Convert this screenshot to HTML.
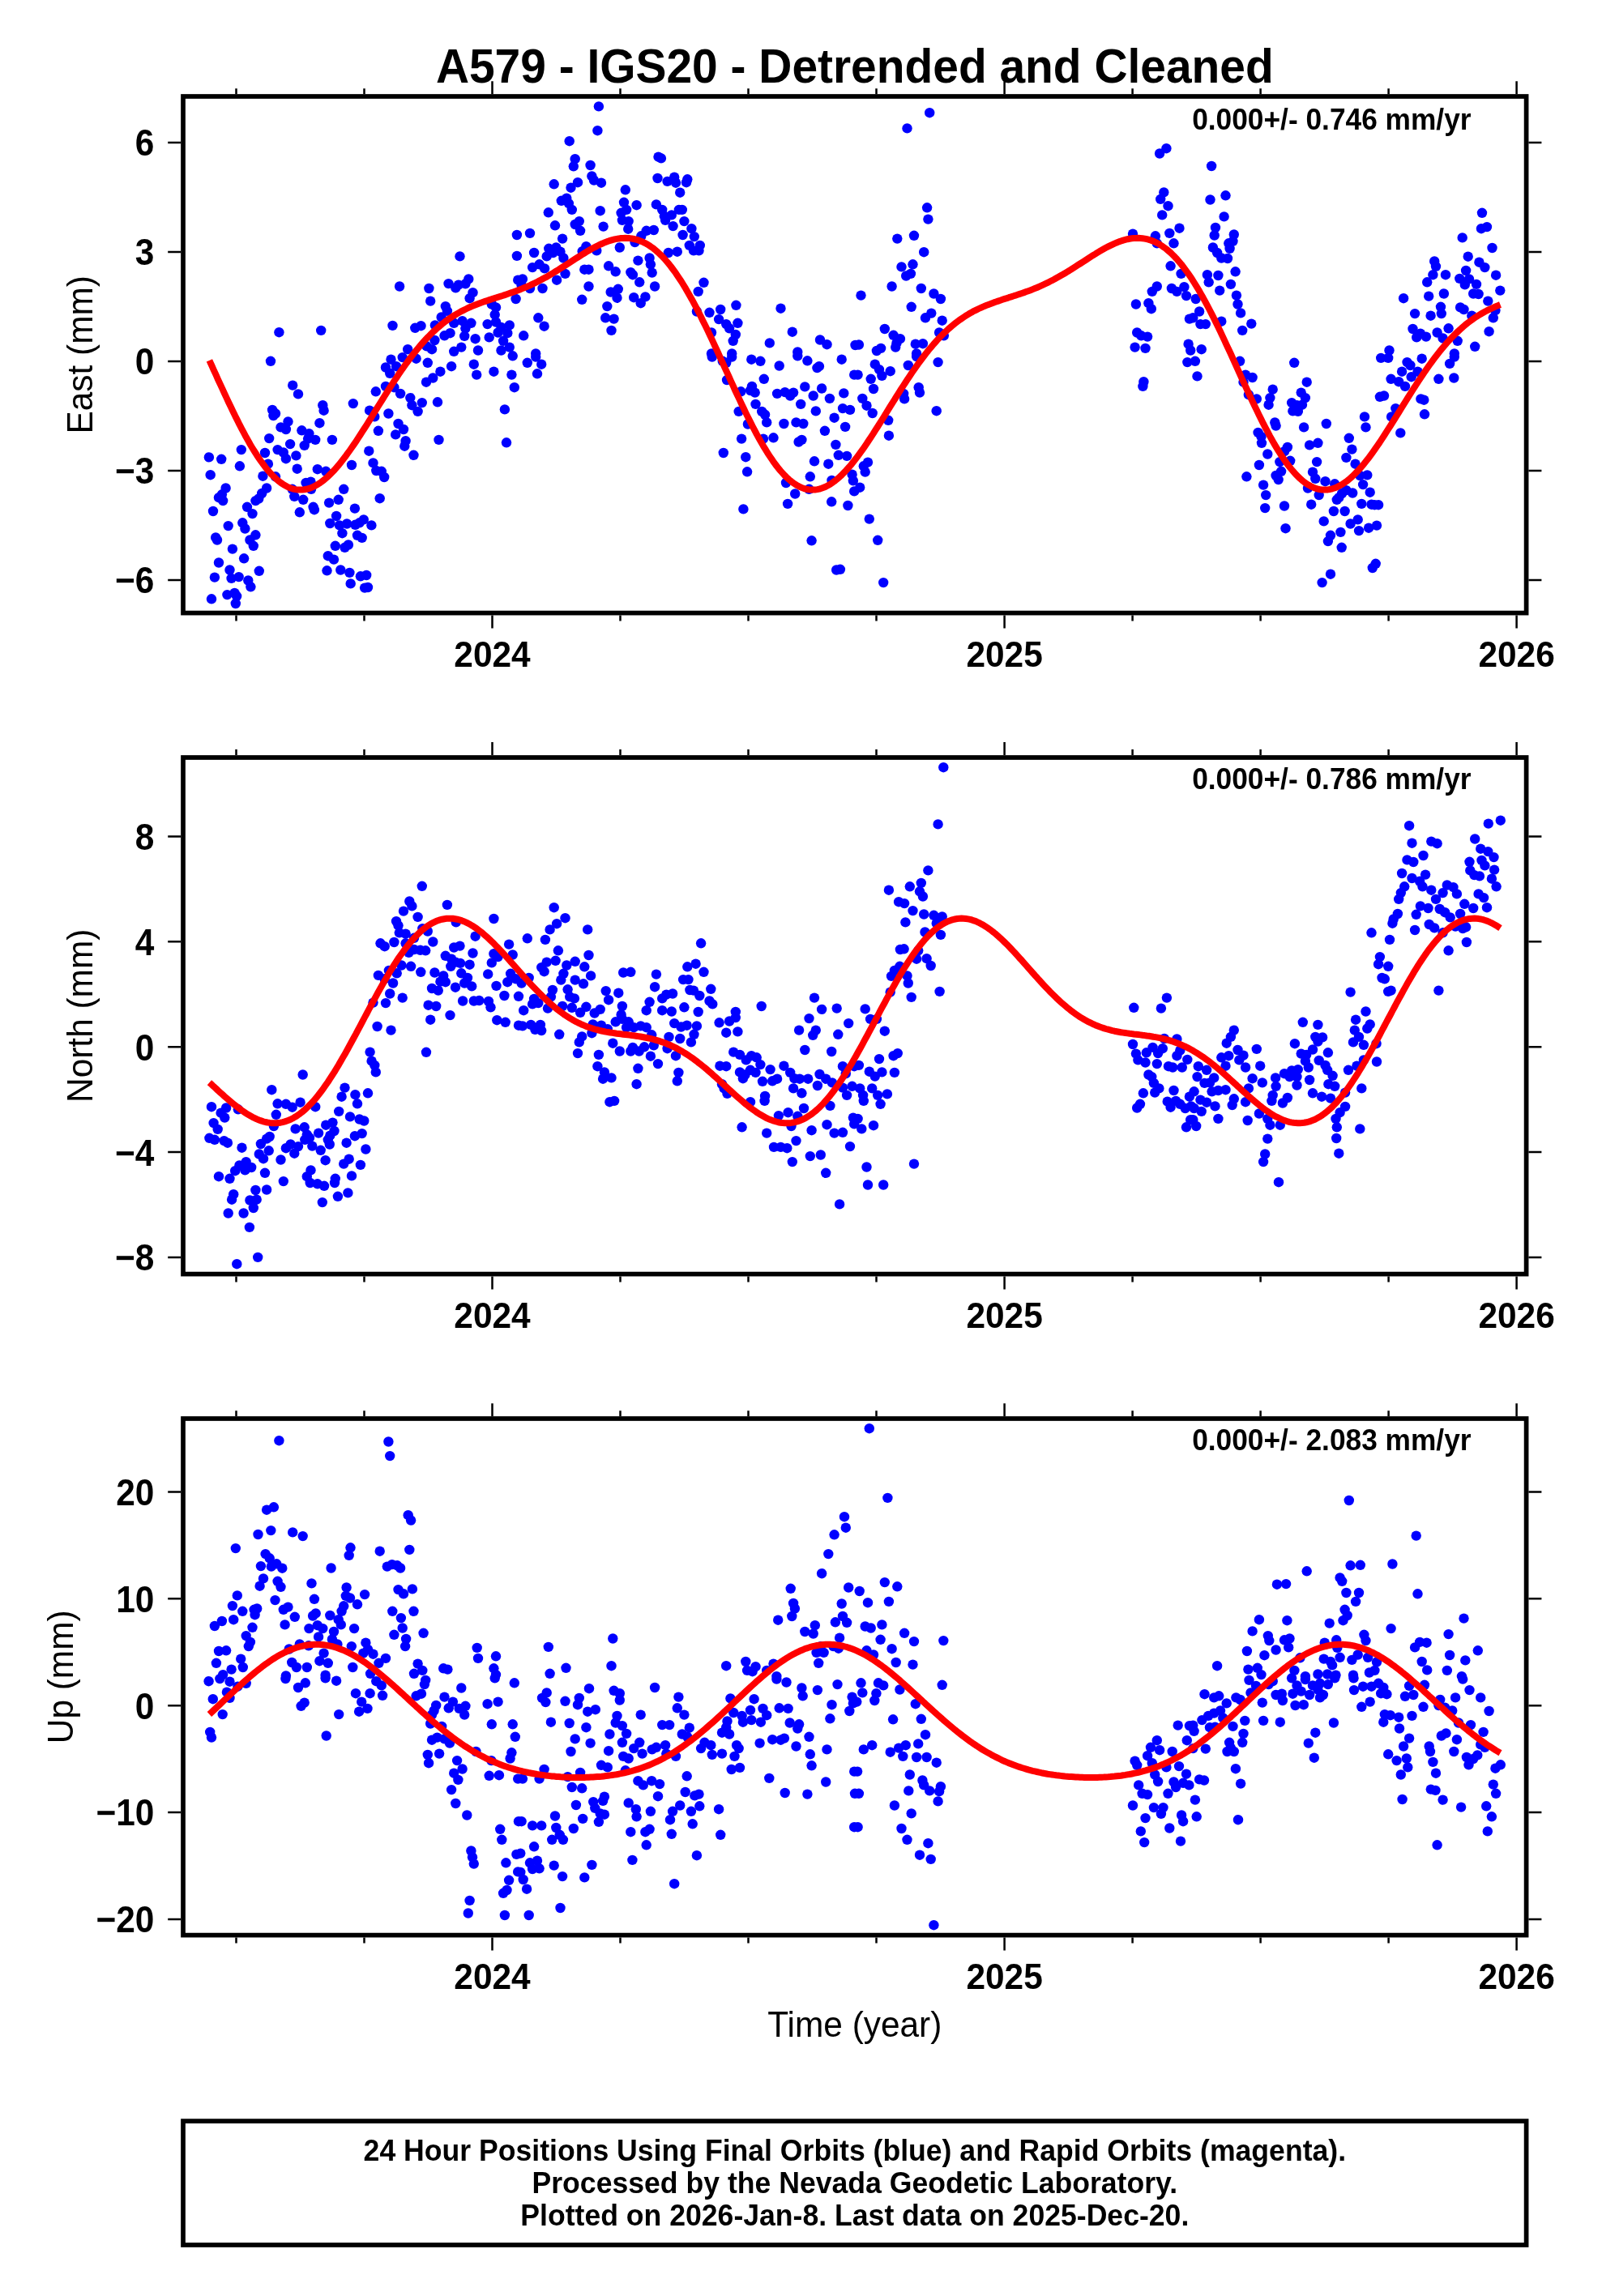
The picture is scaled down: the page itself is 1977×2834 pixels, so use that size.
<!DOCTYPE html><html><head><meta charset="utf-8"><title>A579 - IGS20 - Detrended and Cleaned</title><style>html,body{margin:0;padding:0;background:#fff}svg{display:block;will-change:transform}text{font-family:"Liberation Sans",Arial,Helvetica,sans-serif}</style></head><body>
<svg width="1977" height="2834" viewBox="0 0 1977 2834">
<rect width="1977" height="2834" fill="#fff"/>
<text transform="translate(1054.8,101.6) scale(1,1.03)" font-size="56.9" font-weight="bold" text-anchor="middle">A579 - IGS20 - Detrended and Cleaned</text>
<g fill="#0000ff">
<circle cx="344.4" cy="410.2" r="6.2"/><circle cx="396.2" cy="407.9" r="6.2"/><circle cx="484.5" cy="401.9" r="6.2"/><circle cx="493.1" cy="353.5" r="6.2"/><circle cx="529.4" cy="356.0" r="6.2"/><circle cx="531.2" cy="371.6" r="6.2"/><circle cx="512.3" cy="404.8" r="6.2"/><circle cx="519.5" cy="402.2" r="6.2"/><circle cx="567.5" cy="316.4" r="6.2"/><circle cx="553.5" cy="350.1" r="6.2"/><circle cx="562.3" cy="355.3" r="6.2"/><circle cx="565.9" cy="351.6" r="6.2"/><circle cx="574.4" cy="350.3" r="6.2"/><circle cx="578.3" cy="344.4" r="6.2"/><circle cx="583.5" cy="361.2" r="6.2"/><circle cx="579.6" cy="368.2" r="6.2"/><circle cx="549.8" cy="378.1" r="6.2"/><circle cx="551.9" cy="383.8" r="6.2"/><circle cx="544.7" cy="391.5" r="6.2"/><circle cx="536.9" cy="401.4" r="6.2"/><circle cx="560.2" cy="398.8" r="6.2"/><circle cx="570.6" cy="396.2" r="6.2"/><circle cx="581.4" cy="398.8" r="6.2"/><circle cx="574.4" cy="405.3" r="6.2"/><circle cx="573.2" cy="414.9" r="6.2"/><circle cx="586.6" cy="418.2" r="6.2"/><circle cx="548.5" cy="414.3" r="6.2"/><circle cx="555.5" cy="411.2" r="6.2"/><circle cx="536.4" cy="420.0" r="6.2"/><circle cx="533.0" cy="431.2" r="6.2"/><circle cx="526.5" cy="427.3" r="6.2"/><circle cx="503.2" cy="431.2" r="6.2"/><circle cx="560.2" cy="433.8" r="6.2"/><circle cx="569.3" cy="428.6" r="6.2"/><circle cx="590.0" cy="432.5" r="6.2"/><circle cx="606.8" cy="375.5" r="6.2"/><circle cx="612.0" cy="379.4" r="6.2"/><circle cx="610.7" cy="388.4" r="6.2"/><circle cx="601.6" cy="400.1" r="6.2"/><circle cx="612.0" cy="397.5" r="6.2"/><circle cx="618.5" cy="404.0" r="6.2"/><circle cx="628.8" cy="401.4" r="6.2"/><circle cx="626.3" cy="411.2" r="6.2"/><circle cx="614.6" cy="410.5" r="6.2"/><circle cx="603.7" cy="416.4" r="6.2"/><circle cx="621.1" cy="420.8" r="6.2"/><circle cx="628.8" cy="428.6" r="6.2"/><circle cx="618.5" cy="432.5" r="6.2"/><circle cx="637.9" cy="290.0" r="6.2"/><circle cx="637.9" cy="315.9" r="6.2"/><circle cx="639.2" cy="345.7" r="6.2"/><circle cx="636.6" cy="369.0" r="6.2"/><circle cx="257.9" cy="564.4" r="6.2"/><circle cx="273.2" cy="566.8" r="6.2"/><circle cx="259.7" cy="586.2" r="6.2"/><circle cx="295.9" cy="575.3" r="6.2"/><circle cx="297.8" cy="555.1" r="6.2"/><circle cx="278.6" cy="602.5" r="6.2"/><circle cx="273.9" cy="610.3" r="6.2"/><circle cx="275.2" cy="618.1" r="6.2"/><circle cx="270.0" cy="614.2" r="6.2"/><circle cx="263.0" cy="631.0" r="6.2"/><circle cx="281.7" cy="649.1" r="6.2"/><circle cx="299.3" cy="645.3" r="6.2"/><circle cx="302.4" cy="652.5" r="6.2"/><circle cx="266.2" cy="663.4" r="6.2"/><circle cx="268.0" cy="666.5" r="6.2"/><circle cx="286.9" cy="677.6" r="6.2"/><circle cx="270.0" cy="694.5" r="6.2"/><circle cx="301.1" cy="689.3" r="6.2"/><circle cx="283.5" cy="703.5" r="6.2"/><circle cx="264.9" cy="712.6" r="6.2"/><circle cx="285.6" cy="713.9" r="6.2"/><circle cx="294.7" cy="712.1" r="6.2"/><circle cx="306.3" cy="716.5" r="6.2"/><circle cx="309.4" cy="724.3" r="6.2"/><circle cx="261.0" cy="739.3" r="6.2"/><circle cx="280.4" cy="734.1" r="6.2"/><circle cx="289.5" cy="732.0" r="6.2"/><circle cx="292.1" cy="735.9" r="6.2"/><circle cx="290.8" cy="745.0" r="6.2"/><circle cx="305.0" cy="625.8" r="6.2"/><circle cx="311.5" cy="634.1" r="6.2"/><circle cx="315.4" cy="660.3" r="6.2"/><circle cx="308.4" cy="666.5" r="6.2"/><circle cx="312.8" cy="673.8" r="6.2"/><circle cx="319.8" cy="704.8" r="6.2"/><circle cx="334.0" cy="445.8" r="6.2"/><circle cx="361.2" cy="475.6" r="6.2"/><circle cx="368.0" cy="486.4" r="6.2"/><circle cx="336.1" cy="505.9" r="6.2"/><circle cx="340.0" cy="510.5" r="6.2"/><circle cx="337.4" cy="513.1" r="6.2"/><circle cx="355.5" cy="520.4" r="6.2"/><circle cx="346.5" cy="527.4" r="6.2"/><circle cx="352.9" cy="530.0" r="6.2"/><circle cx="372.4" cy="531.3" r="6.2"/><circle cx="381.4" cy="535.2" r="6.2"/><circle cx="380.1" cy="541.6" r="6.2"/><circle cx="375.7" cy="549.9" r="6.2"/><circle cx="389.2" cy="542.9" r="6.2"/><circle cx="394.4" cy="522.2" r="6.2"/><circle cx="398.3" cy="500.2" r="6.2"/><circle cx="399.6" cy="506.7" r="6.2"/><circle cx="332.2" cy="541.1" r="6.2"/><circle cx="358.1" cy="548.1" r="6.2"/><circle cx="327.0" cy="559.0" r="6.2"/><circle cx="330.9" cy="572.7" r="6.2"/><circle cx="342.6" cy="555.1" r="6.2"/><circle cx="349.8" cy="558.5" r="6.2"/><circle cx="352.9" cy="566.2" r="6.2"/><circle cx="365.4" cy="562.4" r="6.2"/><circle cx="366.7" cy="578.7" r="6.2"/><circle cx="324.4" cy="587.7" r="6.2"/><circle cx="340.0" cy="588.3" r="6.2"/><circle cx="391.8" cy="579.2" r="6.2"/><circle cx="402.2" cy="581.8" r="6.2"/><circle cx="377.6" cy="596.0" r="6.2"/><circle cx="383.5" cy="594.7" r="6.2"/><circle cx="384.0" cy="603.8" r="6.2"/><circle cx="360.7" cy="603.8" r="6.2"/><circle cx="363.3" cy="612.9" r="6.2"/><circle cx="374.2" cy="616.8" r="6.2"/><circle cx="329.1" cy="602.5" r="6.2"/><circle cx="323.2" cy="609.0" r="6.2"/><circle cx="319.3" cy="615.5" r="6.2"/><circle cx="315.4" cy="618.1" r="6.2"/><circle cx="369.8" cy="632.3" r="6.2"/><circle cx="386.6" cy="625.8" r="6.2"/><circle cx="387.9" cy="629.2" r="6.2"/><circle cx="409.9" cy="542.9" r="6.2"/><circle cx="435.8" cy="498.1" r="6.2"/><circle cx="406.1" cy="620.6" r="6.2"/><circle cx="417.7" cy="616.8" r="6.2"/><circle cx="424.2" cy="603.8" r="6.2"/><circle cx="434.0" cy="574.0" r="6.2"/><circle cx="437.9" cy="627.6" r="6.2"/><circle cx="415.1" cy="637.0" r="6.2"/><circle cx="407.3" cy="646.0" r="6.2"/><circle cx="419.0" cy="648.4" r="6.2"/><circle cx="428.1" cy="646.5" r="6.2"/><circle cx="422.4" cy="658.2" r="6.2"/><circle cx="438.4" cy="647.8" r="6.2"/><circle cx="443.6" cy="645.3" r="6.2"/><circle cx="448.8" cy="641.4" r="6.2"/><circle cx="458.4" cy="648.4" r="6.2"/><circle cx="441.0" cy="660.8" r="6.2"/><circle cx="446.7" cy="663.9" r="6.2"/><circle cx="413.8" cy="673.8" r="6.2"/><circle cx="425.5" cy="675.8" r="6.2"/><circle cx="429.9" cy="672.5" r="6.2"/><circle cx="404.8" cy="686.2" r="6.2"/><circle cx="412.0" cy="690.6" r="6.2"/><circle cx="403.5" cy="704.3" r="6.2"/><circle cx="420.3" cy="703.5" r="6.2"/><circle cx="431.4" cy="706.9" r="6.2"/><circle cx="444.9" cy="711.3" r="6.2"/><circle cx="452.2" cy="710.0" r="6.2"/><circle cx="432.7" cy="720.4" r="6.2"/><circle cx="450.1" cy="725.6" r="6.2"/><circle cx="454.0" cy="725.0" r="6.2"/><circle cx="455.3" cy="556.7" r="6.2"/><circle cx="460.5" cy="571.4" r="6.2"/><circle cx="464.3" cy="581.0" r="6.2"/><circle cx="470.8" cy="581.8" r="6.2"/><circle cx="474.2" cy="589.0" r="6.2"/><circle cx="468.7" cy="615.2" r="6.2"/><circle cx="463.8" cy="483.3" r="6.2"/><circle cx="456.1" cy="506.7" r="6.2"/><circle cx="462.3" cy="514.4" r="6.2"/><circle cx="479.4" cy="510.5" r="6.2"/><circle cx="466.9" cy="531.8" r="6.2"/><circle cx="488.2" cy="536.4" r="6.2"/><circle cx="491.5" cy="523.0" r="6.2"/><circle cx="498.0" cy="530.0" r="6.2"/><circle cx="500.6" cy="544.2" r="6.2"/><circle cx="499.3" cy="550.7" r="6.2"/><circle cx="510.5" cy="561.8" r="6.2"/><circle cx="494.1" cy="485.9" r="6.2"/><circle cx="506.3" cy="491.1" r="6.2"/><circle cx="508.4" cy="500.2" r="6.2"/><circle cx="515.6" cy="507.9" r="6.2"/><circle cx="520.8" cy="497.1" r="6.2"/><circle cx="526.0" cy="471.7" r="6.2"/><circle cx="534.3" cy="466.5" r="6.2"/><circle cx="543.4" cy="458.7" r="6.2"/><circle cx="540.0" cy="496.3" r="6.2"/><circle cx="541.5" cy="542.9" r="6.2"/><circle cx="476.0" cy="476.9" r="6.2"/><circle cx="486.4" cy="478.2" r="6.2"/><circle cx="557.1" cy="452.2" r="6.2"/><circle cx="584.8" cy="449.7" r="6.2"/><circle cx="588.2" cy="462.6" r="6.2"/><circle cx="609.4" cy="458.7" r="6.2"/><circle cx="631.4" cy="462.6" r="6.2"/><circle cx="634.8" cy="478.2" r="6.2"/><circle cx="622.9" cy="505.4" r="6.2"/><circle cx="625.0" cy="546.3" r="6.2"/><circle cx="527.8" cy="447.8" r="6.2"/><circle cx="513.6" cy="442.7" r="6.2"/><circle cx="482.5" cy="443.7" r="6.2"/><circle cx="496.7" cy="441.1" r="6.2"/><circle cx="632.7" cy="439.3" r="6.2"/><circle cx="476.0" cy="453.5" r="6.2"/><circle cx="481.2" cy="460.8" r="6.2"/><circle cx="489.0" cy="452.2" r="6.2"/><circle cx="738.9" cy="131.4" r="6.2"/><circle cx="737.4" cy="161.2" r="6.2"/><circle cx="702.7" cy="174.2" r="6.2"/><circle cx="709.7" cy="196.2" r="6.2"/><circle cx="707.8" cy="205.3" r="6.2"/><circle cx="728.6" cy="204.0" r="6.2"/><circle cx="730.4" cy="217.4" r="6.2"/><circle cx="733.0" cy="222.6" r="6.2"/><circle cx="742.0" cy="225.7" r="6.2"/><circle cx="713.0" cy="225.2" r="6.2"/><circle cx="704.5" cy="231.7" r="6.2"/><circle cx="683.7" cy="227.3" r="6.2"/><circle cx="771.8" cy="234.3" r="6.2"/><circle cx="812.5" cy="193.6" r="6.2"/><circle cx="815.9" cy="195.4" r="6.2"/><circle cx="811.5" cy="220.0" r="6.2"/><circle cx="823.6" cy="223.9" r="6.2"/><circle cx="832.2" cy="218.7" r="6.2"/><circle cx="834.0" cy="225.7" r="6.2"/><circle cx="839.2" cy="237.7" r="6.2"/><circle cx="848.3" cy="221.3" r="6.2"/><circle cx="847.0" cy="225.2" r="6.2"/><circle cx="692.8" cy="247.8" r="6.2"/><circle cx="699.3" cy="244.6" r="6.2"/><circle cx="701.9" cy="251.1" r="6.2"/><circle cx="705.8" cy="258.9" r="6.2"/><circle cx="676.8" cy="262.3" r="6.2"/><circle cx="740.7" cy="260.2" r="6.2"/><circle cx="685.0" cy="278.3" r="6.2"/><circle cx="709.7" cy="277.0" r="6.2"/><circle cx="714.8" cy="273.1" r="6.2"/><circle cx="716.1" cy="284.8" r="6.2"/><circle cx="744.6" cy="279.6" r="6.2"/><circle cx="770.0" cy="249.8" r="6.2"/><circle cx="773.1" cy="258.9" r="6.2"/><circle cx="766.6" cy="262.8" r="6.2"/><circle cx="767.9" cy="271.8" r="6.2"/><circle cx="775.7" cy="273.1" r="6.2"/><circle cx="775.2" cy="282.7" r="6.2"/><circle cx="785.6" cy="253.2" r="6.2"/><circle cx="809.9" cy="252.4" r="6.2"/><circle cx="817.2" cy="258.9" r="6.2"/><circle cx="819.8" cy="266.7" r="6.2"/><circle cx="821.1" cy="271.8" r="6.2"/><circle cx="828.8" cy="265.4" r="6.2"/><circle cx="837.9" cy="258.9" r="6.2"/><circle cx="841.8" cy="258.9" r="6.2"/><circle cx="830.6" cy="279.1" r="6.2"/><circle cx="844.4" cy="273.1" r="6.2"/><circle cx="853.4" cy="282.2" r="6.2"/><circle cx="842.6" cy="290.0" r="6.2"/><circle cx="856.8" cy="292.1" r="6.2"/><circle cx="850.8" cy="302.9" r="6.2"/><circle cx="856.0" cy="309.4" r="6.2"/><circle cx="863.8" cy="302.9" r="6.2"/><circle cx="862.5" cy="309.4" r="6.2"/><circle cx="835.8" cy="310.7" r="6.2"/><circle cx="824.9" cy="312.0" r="6.2"/><circle cx="797.7" cy="284.8" r="6.2"/><circle cx="806.8" cy="284.0" r="6.2"/><circle cx="791.3" cy="291.3" r="6.2"/><circle cx="783.5" cy="299.1" r="6.2"/><circle cx="764.8" cy="305.5" r="6.2"/><circle cx="736.3" cy="309.4" r="6.2"/><circle cx="723.4" cy="304.2" r="6.2"/><circle cx="718.7" cy="310.2" r="6.2"/><circle cx="654.0" cy="287.9" r="6.2"/><circle cx="694.1" cy="294.6" r="6.2"/><circle cx="659.1" cy="312.0" r="6.2"/><circle cx="677.3" cy="306.8" r="6.2"/><circle cx="686.3" cy="305.5" r="6.2"/><circle cx="682.5" cy="312.0" r="6.2"/><circle cx="674.7" cy="316.4" r="6.2"/><circle cx="691.5" cy="310.7" r="6.2"/><circle cx="695.4" cy="318.5" r="6.2"/><circle cx="665.6" cy="326.3" r="6.2"/><circle cx="672.1" cy="331.4" r="6.2"/><circle cx="657.1" cy="330.1" r="6.2"/><circle cx="644.9" cy="344.4" r="6.2"/><circle cx="643.6" cy="352.2" r="6.2"/><circle cx="654.0" cy="356.0" r="6.2"/><circle cx="669.5" cy="356.0" r="6.2"/><circle cx="687.1" cy="345.7" r="6.2"/><circle cx="697.5" cy="337.9" r="6.2"/><circle cx="721.3" cy="332.7" r="6.2"/><circle cx="726.5" cy="332.7" r="6.2"/><circle cx="726.5" cy="353.5" r="6.2"/><circle cx="718.2" cy="369.8" r="6.2"/><circle cx="751.1" cy="328.3" r="6.2"/><circle cx="759.7" cy="335.3" r="6.2"/><circle cx="778.3" cy="336.1" r="6.2"/><circle cx="780.9" cy="339.2" r="6.2"/><circle cx="787.4" cy="321.6" r="6.2"/><circle cx="801.6" cy="318.5" r="6.2"/><circle cx="802.9" cy="326.3" r="6.2"/><circle cx="804.7" cy="336.6" r="6.2"/><circle cx="789.2" cy="348.3" r="6.2"/><circle cx="808.1" cy="353.5" r="6.2"/><circle cx="753.7" cy="360.5" r="6.2"/><circle cx="762.8" cy="356.8" r="6.2"/><circle cx="761.5" cy="367.7" r="6.2"/><circle cx="782.2" cy="367.2" r="6.2"/><circle cx="790.7" cy="374.2" r="6.2"/><circle cx="796.4" cy="366.4" r="6.2"/><circle cx="749.3" cy="378.1" r="6.2"/><circle cx="747.2" cy="392.3" r="6.2"/><circle cx="757.6" cy="393.6" r="6.2"/><circle cx="754.5" cy="407.9" r="6.2"/><circle cx="664.3" cy="392.3" r="6.2"/><circle cx="671.6" cy="402.7" r="6.2"/><circle cx="646.2" cy="414.3" r="6.2"/><circle cx="661.2" cy="436.4" r="6.2"/><circle cx="868.5" cy="348.8" r="6.2"/><circle cx="861.7" cy="359.9" r="6.2"/><circle cx="859.9" cy="384.5" r="6.2"/><circle cx="875.5" cy="385.8" r="6.2"/><circle cx="889.2" cy="382.0" r="6.2"/><circle cx="908.4" cy="376.8" r="6.2"/><circle cx="887.1" cy="394.1" r="6.2"/><circle cx="896.2" cy="400.1" r="6.2"/><circle cx="900.1" cy="405.3" r="6.2"/><circle cx="907.8" cy="413.0" r="6.2"/><circle cx="910.4" cy="398.8" r="6.2"/><circle cx="904.7" cy="420.8" r="6.2"/><circle cx="878.0" cy="410.5" r="6.2"/><circle cx="963.5" cy="380.7" r="6.2"/><circle cx="977.8" cy="409.7" r="6.2"/><circle cx="949.8" cy="423.4" r="6.2"/><circle cx="1012.0" cy="419.5" r="6.2"/><circle cx="1020.5" cy="425.2" r="6.2"/><circle cx="1055.5" cy="426.0" r="6.2"/><circle cx="878.0" cy="436.4" r="6.2"/><circle cx="903.2" cy="436.4" r="6.2"/><circle cx="984.3" cy="434.5" r="6.2"/><circle cx="650.8" cy="447.8" r="6.2"/><circle cx="661.2" cy="440.6" r="6.2"/><circle cx="668.2" cy="449.7" r="6.2"/><circle cx="663.0" cy="461.3" r="6.2"/><circle cx="878.8" cy="440.6" r="6.2"/><circle cx="891.8" cy="445.8" r="6.2"/><circle cx="896.2" cy="447.8" r="6.2"/><circle cx="903.2" cy="440.6" r="6.2"/><circle cx="927.3" cy="443.7" r="6.2"/><circle cx="938.4" cy="445.8" r="6.2"/><circle cx="961.7" cy="451.5" r="6.2"/><circle cx="984.3" cy="439.3" r="6.2"/><circle cx="996.4" cy="445.3" r="6.2"/><circle cx="1008.4" cy="454.1" r="6.2"/><circle cx="1010.9" cy="452.2" r="6.2"/><circle cx="1038.7" cy="443.7" r="6.2"/><circle cx="1054.2" cy="462.6" r="6.2"/><circle cx="897.0" cy="469.1" r="6.2"/><circle cx="914.3" cy="483.3" r="6.2"/><circle cx="928.0" cy="476.9" r="6.2"/><circle cx="926.0" cy="482.0" r="6.2"/><circle cx="931.7" cy="484.6" r="6.2"/><circle cx="942.8" cy="467.8" r="6.2"/><circle cx="911.7" cy="507.9" r="6.2"/><circle cx="932.5" cy="498.9" r="6.2"/><circle cx="940.2" cy="507.9" r="6.2"/><circle cx="944.1" cy="511.8" r="6.2"/><circle cx="946.2" cy="521.4" r="6.2"/><circle cx="922.9" cy="523.5" r="6.2"/><circle cx="959.1" cy="485.9" r="6.2"/><circle cx="968.7" cy="484.1" r="6.2"/><circle cx="975.2" cy="488.5" r="6.2"/><circle cx="979.1" cy="484.6" r="6.2"/><circle cx="988.2" cy="498.9" r="6.2"/><circle cx="993.3" cy="477.4" r="6.2"/><circle cx="1003.7" cy="488.5" r="6.2"/><circle cx="1014.1" cy="479.5" r="6.2"/><circle cx="1023.9" cy="491.9" r="6.2"/><circle cx="1041.3" cy="485.4" r="6.2"/><circle cx="1006.8" cy="507.4" r="6.2"/><circle cx="1040.0" cy="504.1" r="6.2"/><circle cx="1049.0" cy="505.9" r="6.2"/><circle cx="1029.6" cy="515.7" r="6.2"/><circle cx="1043.1" cy="526.9" r="6.2"/><circle cx="967.4" cy="523.0" r="6.2"/><circle cx="982.5" cy="521.4" r="6.2"/><circle cx="991.3" cy="523.0" r="6.2"/><circle cx="1017.9" cy="531.8" r="6.2"/><circle cx="985.6" cy="545.5" r="6.2"/><circle cx="989.4" cy="542.9" r="6.2"/><circle cx="954.5" cy="540.3" r="6.2"/><circle cx="942.0" cy="541.6" r="6.2"/><circle cx="915.1" cy="541.6" r="6.2"/><circle cx="892.8" cy="559.0" r="6.2"/><circle cx="920.3" cy="564.2" r="6.2"/><circle cx="922.1" cy="582.3" r="6.2"/><circle cx="1031.4" cy="548.9" r="6.2"/><circle cx="1034.8" cy="561.8" r="6.2"/><circle cx="1045.1" cy="562.9" r="6.2"/><circle cx="1005.0" cy="569.3" r="6.2"/><circle cx="1022.3" cy="572.7" r="6.2"/><circle cx="999.8" cy="588.3" r="6.2"/><circle cx="1026.5" cy="592.9" r="6.2"/><circle cx="1051.6" cy="585.7" r="6.2"/><circle cx="1052.9" cy="593.4" r="6.2"/><circle cx="970.0" cy="596.0" r="6.2"/><circle cx="998.5" cy="603.8" r="6.2"/><circle cx="981.2" cy="609.5" r="6.2"/><circle cx="1054.2" cy="606.4" r="6.2"/><circle cx="972.1" cy="621.9" r="6.2"/><circle cx="1026.2" cy="619.3" r="6.2"/><circle cx="1046.4" cy="624.0" r="6.2"/><circle cx="917.4" cy="628.4" r="6.2"/><circle cx="1001.6" cy="667.3" r="6.2"/><circle cx="1032.2" cy="703.5" r="6.2"/><circle cx="1036.9" cy="702.8" r="6.2"/><circle cx="1147.2" cy="139.2" r="6.2"/><circle cx="1119.5" cy="158.4" r="6.2"/><circle cx="1144.1" cy="256.3" r="6.2"/><circle cx="1145.4" cy="270.6" r="6.2"/><circle cx="1107.3" cy="294.6" r="6.2"/><circle cx="1128.0" cy="290.8" r="6.2"/><circle cx="1140.2" cy="311.2" r="6.2"/><circle cx="1112.5" cy="329.4" r="6.2"/><circle cx="1126.5" cy="326.3" r="6.2"/><circle cx="1118.2" cy="340.5" r="6.2"/><circle cx="1123.9" cy="337.9" r="6.2"/><circle cx="1100.6" cy="353.5" r="6.2"/><circle cx="1062.5" cy="364.6" r="6.2"/><circle cx="1136.8" cy="356.0" r="6.2"/><circle cx="1152.4" cy="362.5" r="6.2"/><circle cx="1160.9" cy="369.0" r="6.2"/><circle cx="1124.7" cy="378.8" r="6.2"/><circle cx="1142.0" cy="392.3" r="6.2"/><circle cx="1149.3" cy="386.6" r="6.2"/><circle cx="1162.7" cy="395.7" r="6.2"/><circle cx="1091.8" cy="406.0" r="6.2"/><circle cx="1102.6" cy="413.8" r="6.2"/><circle cx="1110.9" cy="418.2" r="6.2"/><circle cx="1106.5" cy="423.4" r="6.2"/><circle cx="1105.2" cy="428.6" r="6.2"/><circle cx="1081.9" cy="433.0" r="6.2"/><circle cx="1087.1" cy="429.9" r="6.2"/><circle cx="1059.9" cy="425.5" r="6.2"/><circle cx="1129.8" cy="424.7" r="6.2"/><circle cx="1138.9" cy="424.2" r="6.2"/><circle cx="1131.1" cy="436.4" r="6.2"/><circle cx="1159.1" cy="410.5" r="6.2"/><circle cx="1164.8" cy="414.3" r="6.2"/><circle cx="1439.4" cy="183.2" r="6.2"/><circle cx="1431.1" cy="189.5" r="6.2"/><circle cx="1436.3" cy="237.4" r="6.2"/><circle cx="1432.2" cy="245.9" r="6.2"/><circle cx="1441.5" cy="254.2" r="6.2"/><circle cx="1434.2" cy="265.4" r="6.2"/><circle cx="1455.5" cy="281.7" r="6.2"/><circle cx="1443.3" cy="287.9" r="6.2"/><circle cx="1398.0" cy="288.7" r="6.2"/><circle cx="1425.9" cy="291.3" r="6.2"/><circle cx="1427.8" cy="300.3" r="6.2"/><circle cx="1448.5" cy="300.3" r="6.2"/><circle cx="1444.6" cy="328.3" r="6.2"/><circle cx="1457.6" cy="337.9" r="6.2"/><circle cx="1427.8" cy="353.5" r="6.2"/><circle cx="1421.8" cy="359.9" r="6.2"/><circle cx="1401.9" cy="375.5" r="6.2"/><circle cx="1417.4" cy="374.2" r="6.2"/><circle cx="1420.8" cy="381.2" r="6.2"/><circle cx="1445.9" cy="356.0" r="6.2"/><circle cx="1452.4" cy="359.9" r="6.2"/><circle cx="1461.4" cy="354.2" r="6.2"/><circle cx="1464.0" cy="365.1" r="6.2"/><circle cx="1467.9" cy="393.6" r="6.2"/><circle cx="1403.2" cy="410.5" r="6.2"/><circle cx="1408.3" cy="414.3" r="6.2"/><circle cx="1416.1" cy="415.6" r="6.2"/><circle cx="1400.6" cy="428.6" r="6.2"/><circle cx="1413.5" cy="429.9" r="6.2"/><circle cx="1466.6" cy="424.7" r="6.2"/><circle cx="1469.2" cy="432.5" r="6.2"/><circle cx="1131.1" cy="440.1" r="6.2"/><circle cx="1157.6" cy="447.1" r="6.2"/><circle cx="1120.8" cy="451.0" r="6.2"/><circle cx="1079.8" cy="449.7" r="6.2"/><circle cx="1085.0" cy="456.1" r="6.2"/><circle cx="1088.4" cy="463.9" r="6.2"/><circle cx="1098.7" cy="458.2" r="6.2"/><circle cx="1058.6" cy="462.6" r="6.2"/><circle cx="1074.7" cy="467.8" r="6.2"/><circle cx="1078.0" cy="480.0" r="6.2"/><circle cx="1064.3" cy="491.9" r="6.2"/><circle cx="1069.5" cy="500.7" r="6.2"/><circle cx="1076.7" cy="510.0" r="6.2"/><circle cx="1116.1" cy="492.4" r="6.2"/><circle cx="1115.1" cy="485.9" r="6.2"/><circle cx="1133.7" cy="478.2" r="6.2"/><circle cx="1135.0" cy="484.6" r="6.2"/><circle cx="1155.7" cy="507.2" r="6.2"/><circle cx="1096.2" cy="518.8" r="6.2"/><circle cx="1096.9" cy="537.7" r="6.2"/><circle cx="1071.0" cy="570.6" r="6.2"/><circle cx="1065.8" cy="575.3" r="6.2"/><circle cx="1067.7" cy="582.6" r="6.2"/><circle cx="1061.2" cy="601.7" r="6.2"/><circle cx="1072.8" cy="640.6" r="6.2"/><circle cx="1083.2" cy="666.8" r="6.2"/><circle cx="1090.2" cy="719.1" r="6.2"/><circle cx="1411.4" cy="471.2" r="6.2"/><circle cx="1410.4" cy="476.9" r="6.2"/><circle cx="1465.3" cy="447.1" r="6.2"/><circle cx="1495.1" cy="205.0" r="6.2"/><circle cx="1493.5" cy="246.5" r="6.2"/><circle cx="1512.5" cy="241.3" r="6.2"/><circle cx="1510.6" cy="267.4" r="6.2"/><circle cx="1500.0" cy="280.9" r="6.2"/><circle cx="1498.7" cy="290.5" r="6.2"/><circle cx="1522.8" cy="289.5" r="6.2"/><circle cx="1516.3" cy="300.3" r="6.2"/><circle cx="1521.5" cy="297.8" r="6.2"/><circle cx="1517.6" cy="306.8" r="6.2"/><circle cx="1496.9" cy="305.5" r="6.2"/><circle cx="1502.1" cy="312.0" r="6.2"/><circle cx="1507.3" cy="318.5" r="6.2"/><circle cx="1515.0" cy="319.0" r="6.2"/><circle cx="1489.9" cy="339.2" r="6.2"/><circle cx="1491.7" cy="348.3" r="6.2"/><circle cx="1503.4" cy="340.0" r="6.2"/><circle cx="1524.6" cy="335.3" r="6.2"/><circle cx="1518.9" cy="350.9" r="6.2"/><circle cx="1505.2" cy="358.6" r="6.2"/><circle cx="1525.9" cy="364.6" r="6.2"/><circle cx="1527.5" cy="375.5" r="6.2"/><circle cx="1531.1" cy="386.4" r="6.2"/><circle cx="1544.3" cy="399.6" r="6.2"/><circle cx="1533.2" cy="407.9" r="6.2"/><circle cx="1507.3" cy="396.7" r="6.2"/><circle cx="1475.7" cy="369.0" r="6.2"/><circle cx="1480.1" cy="384.5" r="6.2"/><circle cx="1472.3" cy="392.3" r="6.2"/><circle cx="1481.4" cy="400.1" r="6.2"/><circle cx="1487.8" cy="400.1" r="6.2"/><circle cx="1482.7" cy="431.2" r="6.2"/><circle cx="1829.0" cy="262.8" r="6.2"/><circle cx="1828.0" cy="282.2" r="6.2"/><circle cx="1835.0" cy="280.1" r="6.2"/><circle cx="1804.7" cy="293.4" r="6.2"/><circle cx="1841.5" cy="306.0" r="6.2"/><circle cx="1811.7" cy="316.7" r="6.2"/><circle cx="1770.2" cy="322.4" r="6.2"/><circle cx="1772.0" cy="328.8" r="6.2"/><circle cx="1768.4" cy="339.2" r="6.2"/><circle cx="1784.0" cy="339.2" r="6.2"/><circle cx="1761.2" cy="348.3" r="6.2"/><circle cx="1809.1" cy="334.0" r="6.2"/><circle cx="1801.3" cy="343.9" r="6.2"/><circle cx="1807.8" cy="351.4" r="6.2"/><circle cx="1813.0" cy="344.4" r="6.2"/><circle cx="1822.0" cy="350.9" r="6.2"/><circle cx="1818.2" cy="362.5" r="6.2"/><circle cx="1824.6" cy="363.0" r="6.2"/><circle cx="1825.4" cy="323.7" r="6.2"/><circle cx="1832.4" cy="330.1" r="6.2"/><circle cx="1846.1" cy="339.7" r="6.2"/><circle cx="1851.3" cy="358.6" r="6.2"/><circle cx="1732.1" cy="368.2" r="6.2"/><circle cx="1763.2" cy="365.6" r="6.2"/><circle cx="1781.9" cy="362.5" r="6.2"/><circle cx="1778.0" cy="378.8" r="6.2"/><circle cx="1778.8" cy="387.1" r="6.2"/><circle cx="1746.1" cy="387.1" r="6.2"/><circle cx="1765.6" cy="389.7" r="6.2"/><circle cx="1802.1" cy="379.4" r="6.2"/><circle cx="1806.5" cy="382.0" r="6.2"/><circle cx="1836.3" cy="371.6" r="6.2"/><circle cx="1816.3" cy="389.7" r="6.2"/><circle cx="1845.4" cy="383.2" r="6.2"/><circle cx="1842.8" cy="392.3" r="6.2"/><circle cx="1743.5" cy="406.0" r="6.2"/><circle cx="1748.2" cy="416.4" r="6.2"/><circle cx="1752.9" cy="411.7" r="6.2"/><circle cx="1759.9" cy="415.6" r="6.2"/><circle cx="1773.6" cy="410.5" r="6.2"/><circle cx="1787.6" cy="405.3" r="6.2"/><circle cx="1780.6" cy="417.4" r="6.2"/><circle cx="1798.7" cy="420.8" r="6.2"/><circle cx="1837.6" cy="409.2" r="6.2"/><circle cx="1820.2" cy="427.8" r="6.2"/><circle cx="1714.5" cy="432.5" r="6.2"/><circle cx="1794.8" cy="436.4" r="6.2"/><circle cx="1474.9" cy="445.8" r="6.2"/><circle cx="1477.5" cy="464.4" r="6.2"/><circle cx="1530.1" cy="445.8" r="6.2"/><circle cx="1537.1" cy="462.6" r="6.2"/><circle cx="1545.6" cy="466.0" r="6.2"/><circle cx="1534.5" cy="471.7" r="6.2"/><circle cx="1540.9" cy="487.2" r="6.2"/><circle cx="1550.8" cy="492.4" r="6.2"/><circle cx="1570.7" cy="480.7" r="6.2"/><circle cx="1567.4" cy="491.1" r="6.2"/><circle cx="1565.6" cy="499.7" r="6.2"/><circle cx="1597.2" cy="447.8" r="6.2"/><circle cx="1612.7" cy="471.7" r="6.2"/><circle cx="1605.7" cy="484.6" r="6.2"/><circle cx="1610.9" cy="491.1" r="6.2"/><circle cx="1594.1" cy="497.1" r="6.2"/><circle cx="1600.5" cy="500.2" r="6.2"/><circle cx="1607.0" cy="499.7" r="6.2"/><circle cx="1595.4" cy="507.4" r="6.2"/><circle cx="1601.8" cy="507.9" r="6.2"/><circle cx="1573.3" cy="521.4" r="6.2"/><circle cx="1574.6" cy="525.6" r="6.2"/><circle cx="1636.8" cy="523.0" r="6.2"/><circle cx="1609.1" cy="527.4" r="6.2"/><circle cx="1552.6" cy="533.9" r="6.2"/><circle cx="1556.5" cy="539.0" r="6.2"/><circle cx="1557.0" cy="546.8" r="6.2"/><circle cx="1588.9" cy="552.0" r="6.2"/><circle cx="1585.0" cy="557.2" r="6.2"/><circle cx="1564.3" cy="560.5" r="6.2"/><circle cx="1616.1" cy="549.4" r="6.2"/><circle cx="1626.4" cy="546.8" r="6.2"/><circle cx="1553.9" cy="574.0" r="6.2"/><circle cx="1579.3" cy="570.1" r="6.2"/><circle cx="1592.2" cy="568.8" r="6.2"/><circle cx="1625.1" cy="570.1" r="6.2"/><circle cx="1538.4" cy="588.3" r="6.2"/><circle cx="1574.6" cy="587.0" r="6.2"/><circle cx="1581.1" cy="581.8" r="6.2"/><circle cx="1577.7" cy="592.1" r="6.2"/><circle cx="1620.0" cy="582.6" r="6.2"/><circle cx="1623.3" cy="590.8" r="6.2"/><circle cx="1635.5" cy="594.2" r="6.2"/><circle cx="1647.2" cy="597.3" r="6.2"/><circle cx="1614.0" cy="602.5" r="6.2"/><circle cx="1627.7" cy="611.1" r="6.2"/><circle cx="1559.1" cy="598.6" r="6.2"/><circle cx="1562.2" cy="611.1" r="6.2"/><circle cx="1561.2" cy="627.1" r="6.2"/><circle cx="1585.0" cy="624.5" r="6.2"/><circle cx="1618.2" cy="622.7" r="6.2"/><circle cx="1586.5" cy="652.2" r="6.2"/><circle cx="1664.8" cy="540.8" r="6.2"/><circle cx="1668.4" cy="554.6" r="6.2"/><circle cx="1661.4" cy="564.9" r="6.2"/><circle cx="1672.6" cy="572.7" r="6.2"/><circle cx="1678.3" cy="587.0" r="6.2"/><circle cx="1687.3" cy="586.4" r="6.2"/><circle cx="1682.1" cy="598.1" r="6.2"/><circle cx="1690.7" cy="607.7" r="6.2"/><circle cx="1661.4" cy="605.1" r="6.2"/><circle cx="1669.2" cy="608.5" r="6.2"/><circle cx="1656.2" cy="609.0" r="6.2"/><circle cx="1649.8" cy="616.8" r="6.2"/><circle cx="1652.3" cy="614.2" r="6.2"/><circle cx="1680.3" cy="621.9" r="6.2"/><circle cx="1692.5" cy="622.7" r="6.2"/><circle cx="1701.1" cy="623.2" r="6.2"/><circle cx="1696.4" cy="623.2" r="6.2"/><circle cx="1645.9" cy="631.0" r="6.2"/><circle cx="1659.6" cy="631.0" r="6.2"/><circle cx="1633.7" cy="643.4" r="6.2"/><circle cx="1666.6" cy="646.5" r="6.2"/><circle cx="1675.7" cy="641.4" r="6.2"/><circle cx="1689.1" cy="651.7" r="6.2"/><circle cx="1699.0" cy="648.6" r="6.2"/><circle cx="1677.0" cy="655.1" r="6.2"/><circle cx="1654.4" cy="656.9" r="6.2"/><circle cx="1642.0" cy="660.8" r="6.2"/><circle cx="1638.9" cy="668.1" r="6.2"/><circle cx="1655.7" cy="675.8" r="6.2"/><circle cx="1697.7" cy="695.8" r="6.2"/><circle cx="1693.8" cy="701.0" r="6.2"/><circle cx="1642.0" cy="708.7" r="6.2"/><circle cx="1631.6" cy="719.1" r="6.2"/><circle cx="1684.0" cy="514.4" r="6.2"/><circle cx="1685.5" cy="527.4" r="6.2"/><circle cx="1728.3" cy="534.4" r="6.2"/><circle cx="1717.1" cy="514.4" r="6.2"/><circle cx="1722.3" cy="504.1" r="6.2"/><circle cx="1702.9" cy="489.8" r="6.2"/><circle cx="1708.0" cy="488.5" r="6.2"/><circle cx="1753.4" cy="492.4" r="6.2"/><circle cx="1757.3" cy="493.7" r="6.2"/><circle cx="1758.0" cy="511.3" r="6.2"/><circle cx="1716.6" cy="467.8" r="6.2"/><circle cx="1726.2" cy="471.2" r="6.2"/><circle cx="1734.0" cy="476.9" r="6.2"/><circle cx="1730.1" cy="458.7" r="6.2"/><circle cx="1741.7" cy="465.2" r="6.2"/><circle cx="1749.5" cy="458.7" r="6.2"/><circle cx="1736.5" cy="447.1" r="6.2"/><circle cx="1740.4" cy="451.0" r="6.2"/><circle cx="1754.7" cy="442.7" r="6.2"/><circle cx="1704.2" cy="441.9" r="6.2"/><circle cx="1713.2" cy="441.9" r="6.2"/><circle cx="1775.4" cy="467.8" r="6.2"/><circle cx="1794.3" cy="466.5" r="6.2"/><circle cx="1789.1" cy="448.9" r="6.2"/><circle cx="1794.8" cy="440.6" r="6.2"/>
</g>
<path d="M258.4,444.9 L261.1,450.7 L263.7,456.6 L266.4,462.4 L269.0,468.3 L271.7,474.1 L274.4,479.9 L277.0,485.7 L279.7,491.4 L282.3,497.0 L285.0,502.6 L287.7,508.2 L290.3,513.6 L293.0,518.9 L295.6,524.2 L298.3,529.3 L301.0,534.4 L303.6,539.3 L306.3,544.0 L308.9,548.7 L311.6,553.2 L314.3,557.5 L316.9,561.7 L319.6,565.7 L322.2,569.5 L324.9,573.2 L327.5,576.7 L330.2,580.0 L332.9,583.1 L335.5,586.0 L338.2,588.7 L340.8,591.2 L343.5,593.5 L346.2,595.6 L348.8,597.4 L351.5,599.1 L354.1,600.5 L356.8,601.8 L359.5,602.8 L362.1,603.6 L364.8,604.1 L367.4,604.5 L370.1,604.6 L372.8,604.6 L375.4,604.3 L378.1,603.8 L380.7,603.1 L383.4,602.2 L386.1,601.1 L388.7,599.8 L391.4,598.3 L394.0,596.7 L396.7,594.8 L399.4,592.8 L402.0,590.5 L404.7,588.2 L407.3,585.6 L410.0,582.9 L412.7,580.1 L415.3,577.1 L418.0,574.0 L420.6,570.7 L423.3,567.3 L426.0,563.8 L428.6,560.2 L431.3,556.5 L433.9,552.8 L436.6,548.9 L439.3,544.9 L441.9,540.9 L444.6,536.8 L447.2,532.7 L449.9,528.5 L452.6,524.3 L455.2,520.1 L457.9,515.8 L460.5,511.5 L463.2,507.2 L465.8,502.9 L468.5,498.7 L471.2,494.4 L473.8,490.1 L476.5,485.9 L479.1,481.7 L481.8,477.5 L484.5,473.4 L487.1,469.4 L489.8,465.4 L492.4,461.4 L495.1,457.5 L497.8,453.7 L500.4,450.0 L503.1,446.3 L505.7,442.7 L508.4,439.2 L511.1,435.8 L513.7,432.5 L516.4,429.2 L519.0,426.1 L521.7,423.0 L524.4,420.1 L527.0,417.2 L529.7,414.5 L532.3,411.8 L535.0,409.2 L537.7,406.8 L540.3,404.4 L543.0,402.1 L545.6,399.9 L548.3,397.8 L551.0,395.8 L553.6,393.9 L556.3,392.1 L558.9,390.3 L561.6,388.7 L564.3,387.1 L566.9,385.6 L569.6,384.1 L572.2,382.8 L574.9,381.5 L577.6,380.2 L580.2,379.0 L582.9,377.9 L585.5,376.8 L588.2,375.7 L590.8,374.7 L593.5,373.7 L596.2,372.8 L598.8,371.9 L601.5,371.0 L604.1,370.1 L606.8,369.2 L609.5,368.4 L612.1,367.5 L614.8,366.7 L617.4,365.8 L620.1,365.0 L622.8,364.1 L625.4,363.2 L628.1,362.3 L630.7,361.4 L633.4,360.5 L636.1,359.5 L638.7,358.5 L641.4,357.5 L644.0,356.4 L646.7,355.3 L649.4,354.2 L652.0,353.1 L654.7,351.9 L657.3,350.6 L660.0,349.3 L662.7,348.0 L665.3,346.7 L668.0,345.3 L670.6,343.8 L673.3,342.4 L676.0,340.9 L678.6,339.3 L681.3,337.8 L683.9,336.2 L686.6,334.5 L689.3,332.9 L691.9,331.2 L694.6,329.5 L697.2,327.8 L699.9,326.1 L702.6,324.4 L705.2,322.7 L707.9,320.9 L710.5,319.2 L713.2,317.5 L715.9,315.8 L718.5,314.2 L721.2,312.5 L723.8,310.9 L726.5,309.3 L729.1,307.8 L731.8,306.3 L734.5,304.9 L737.1,303.5 L739.8,302.2 L742.4,301.0 L745.1,299.8 L747.8,298.8 L750.4,297.8 L753.1,296.9 L755.7,296.1 L758.4,295.4 L761.1,294.9 L763.7,294.4 L766.4,294.1 L769.0,293.9 L771.7,293.8 L774.4,293.9 L777.0,294.1 L779.7,294.5 L782.3,295.0 L785.0,295.6 L787.7,296.4 L790.3,297.4 L793.0,298.5 L795.6,299.8 L798.3,301.3 L801.0,302.9 L803.6,304.7 L806.3,306.6 L808.9,308.8 L811.6,311.1 L814.3,313.6 L816.9,316.2 L819.6,319.0 L822.2,322.0 L824.9,325.2 L827.6,328.5 L830.2,332.0 L832.9,335.6 L835.5,339.4 L838.2,343.4 L840.9,347.5 L843.5,351.8 L846.2,356.2 L848.8,360.7 L851.5,365.4 L854.2,370.2 L856.8,375.1 L859.5,380.1 L862.1,385.3 L864.8,390.5 L867.4,395.9 L870.1,401.3 L872.8,406.8 L875.4,412.4 L878.1,418.0 L880.7,423.7 L883.4,429.5 L886.1,435.3 L888.7,441.1 L891.4,446.9 L894.0,452.8 L896.7,458.7 L899.4,464.5 L902.0,470.3 L904.7,476.2 L907.3,482.0 L910.0,487.7 L912.7,493.4 L915.3,499.0 L918.0,504.6 L920.6,510.1 L923.3,515.5 L926.0,520.8 L928.6,526.0 L931.3,531.1 L933.9,536.1 L936.6,541.0 L939.3,545.7 L941.9,550.3 L944.6,554.7 L947.2,559.0 L949.9,563.1 L952.6,567.1 L955.2,570.9 L957.9,574.5 L960.5,577.9 L963.2,581.1 L965.9,584.1 L968.5,587.0 L971.2,589.6 L973.8,592.0 L976.5,594.2 L979.2,596.2 L981.8,598.0 L984.5,599.6 L987.1,601.0 L989.8,602.1 L992.4,603.1 L995.1,603.8 L997.8,604.3 L1000.4,604.6 L1003.1,604.6 L1005.7,604.5 L1008.4,604.1 L1011.1,603.6 L1013.7,602.8 L1016.4,601.8 L1019.0,600.7 L1021.7,599.3 L1024.4,597.8 L1027.0,596.0 L1029.7,594.1 L1032.3,592.0 L1035.0,589.7 L1037.7,587.3 L1040.3,584.7 L1043.0,581.9 L1045.6,579.0 L1048.3,576.0 L1051.0,572.8 L1053.6,569.5 L1056.3,566.1 L1058.9,562.6 L1061.6,558.9 L1064.3,555.2 L1066.9,551.4 L1069.6,547.5 L1072.2,543.5 L1074.9,539.5 L1077.6,535.4 L1080.2,531.2 L1082.9,527.0 L1085.5,522.8 L1088.2,518.6 L1090.9,514.3 L1093.5,510.0 L1096.2,505.7 L1098.8,501.4 L1101.5,497.1 L1104.2,492.9 L1106.8,488.6 L1109.5,484.4 L1112.1,480.2 L1114.8,476.1 L1117.5,472.0 L1120.1,467.9 L1122.8,463.9 L1125.4,460.0 L1128.1,456.2 L1130.7,452.4 L1133.4,448.6 L1136.1,445.0 L1138.7,441.5 L1141.4,438.0 L1144.0,434.6 L1146.7,431.3 L1149.4,428.1 L1152.0,425.0 L1154.7,422.0 L1157.3,419.0 L1160.0,416.2 L1162.7,413.5 L1165.3,410.9 L1168.0,408.3 L1170.6,405.9 L1173.3,403.6 L1176.0,401.3 L1178.6,399.2 L1181.3,397.1 L1183.9,395.1 L1186.6,393.3 L1189.3,391.5 L1191.9,389.7 L1194.6,388.1 L1197.2,386.5 L1199.9,385.1 L1202.6,383.6 L1205.2,382.3 L1207.9,381.0 L1210.5,379.8 L1213.2,378.6 L1215.9,377.5 L1218.5,376.4 L1221.2,375.4 L1223.8,374.4 L1226.5,373.4 L1229.2,372.5 L1231.8,371.6 L1234.5,370.7 L1237.1,369.8 L1239.8,368.9 L1242.5,368.1 L1245.1,367.2 L1247.8,366.4 L1250.4,365.5 L1253.1,364.7 L1255.7,363.8 L1258.4,362.9 L1261.1,362.0 L1263.7,361.1 L1266.4,360.1 L1269.0,359.2 L1271.7,358.2 L1274.4,357.1 L1277.0,356.1 L1279.7,355.0 L1282.3,353.8 L1285.0,352.6 L1287.7,351.4 L1290.3,350.2 L1293.0,348.9 L1295.6,347.5 L1298.3,346.2 L1301.0,344.8 L1303.6,343.3 L1306.3,341.8 L1308.9,340.3 L1311.6,338.8 L1314.3,337.2 L1316.9,335.6 L1319.6,334.0 L1322.2,332.3 L1324.9,330.6 L1327.6,328.9 L1330.2,327.2 L1332.9,325.5 L1335.5,323.8 L1338.2,322.1 L1340.9,320.3 L1343.5,318.6 L1346.2,316.9 L1348.8,315.2 L1351.5,313.6 L1354.2,311.9 L1356.8,310.3 L1359.5,308.8 L1362.1,307.3 L1364.8,305.8 L1367.5,304.4 L1370.1,303.1 L1372.8,301.8 L1375.4,300.6 L1378.1,299.5 L1380.8,298.4 L1383.4,297.5 L1386.1,296.6 L1388.7,295.9 L1391.4,295.2 L1394.0,294.7 L1396.7,294.3 L1399.4,294.0 L1402.0,293.9 L1404.7,293.8 L1407.3,294.0 L1410.0,294.2 L1412.7,294.6 L1415.3,295.2 L1418.0,295.9 L1420.6,296.7 L1423.3,297.8 L1426.0,298.9 L1428.6,300.3 L1431.3,301.8 L1433.9,303.5 L1436.6,305.4 L1439.3,307.4 L1441.9,309.6 L1444.6,311.9 L1447.2,314.5 L1449.9,317.2 L1452.6,320.1 L1455.2,323.1 L1457.9,326.3 L1460.5,329.7 L1463.2,333.3 L1465.9,337.0 L1468.5,340.8 L1471.2,344.8 L1473.8,349.0 L1476.5,353.3 L1479.2,357.8 L1481.8,362.4 L1484.5,367.1 L1487.1,371.9 L1489.8,376.9 L1492.5,382.0 L1495.1,387.1 L1497.8,392.4 L1500.4,397.8 L1503.1,403.2 L1505.8,408.8 L1508.4,414.4 L1511.1,420.1 L1513.7,425.8 L1516.4,431.5 L1519.1,437.3 L1521.7,443.2 L1524.4,449.0 L1527.0,454.9 L1529.7,460.7 L1532.3,466.6 L1535.0,472.4 L1537.7,478.2 L1540.3,484.0 L1543.0,489.7 L1545.6,495.4 L1548.3,501.0 L1551.0,506.6 L1553.6,512.0 L1556.3,517.4 L1558.9,522.7 L1561.6,527.9 L1564.3,532.9 L1566.9,537.9 L1569.6,542.7 L1572.2,547.4 L1574.9,551.9 L1577.6,556.3 L1580.2,560.5 L1582.9,564.5 L1585.5,568.4 L1588.2,572.2 L1590.9,575.7 L1593.5,579.0 L1596.2,582.2 L1598.8,585.2 L1601.5,587.9 L1604.2,590.5 L1606.8,592.8 L1609.5,595.0 L1612.1,596.9 L1614.8,598.6 L1617.5,600.1 L1620.1,601.4 L1622.8,602.5 L1625.4,603.4 L1628.1,604.0 L1630.8,604.4 L1633.4,604.6 L1636.1,604.6 L1638.7,604.4 L1641.4,604.0 L1644.1,603.3 L1646.7,602.5 L1649.4,601.5 L1652.0,600.2 L1654.7,598.8 L1657.3,597.2 L1660.0,595.3 L1662.7,593.4 L1665.3,591.2 L1668.0,588.9 L1670.6,586.4 L1673.3,583.7 L1676.0,580.9 L1678.6,578.0 L1681.3,574.9 L1683.9,571.7 L1686.6,568.3 L1689.3,564.9 L1691.9,561.3 L1694.6,557.6 L1697.2,553.9 L1699.9,550.0 L1702.6,546.1 L1705.2,542.1 L1707.9,538.0 L1710.5,533.9 L1713.2,529.7 L1715.9,525.5 L1718.5,521.3 L1721.2,517.0 L1723.8,512.8 L1726.5,508.5 L1729.2,504.2 L1731.8,499.9 L1734.5,495.6 L1737.1,491.4 L1739.8,487.1 L1742.5,482.9 L1745.1,478.7 L1747.8,474.6 L1750.4,470.5 L1753.1,466.5 L1755.8,462.5 L1758.4,458.6 L1761.1,454.8 L1763.7,451.0 L1766.4,447.3 L1769.1,443.7 L1771.7,440.2 L1774.4,436.8 L1777.0,433.4 L1779.7,430.2 L1782.4,427.0 L1785.0,423.9 L1787.7,420.9 L1790.3,418.0 L1793.0,415.2 L1795.6,412.6 L1798.3,410.0 L1801.0,407.5 L1803.6,405.1 L1806.3,402.8 L1808.9,400.5 L1811.6,398.4 L1814.3,396.4 L1816.9,394.5 L1819.6,392.6 L1822.2,390.8 L1824.9,389.1 L1827.6,387.5 L1830.2,386.0 L1832.9,384.5 L1835.5,383.2 L1838.2,381.8 L1840.9,380.6 L1843.5,379.4 L1846.2,378.2 L1848.8,377.1 L1851.5,376.0" fill="none" stroke="#ff0000" stroke-width="8" stroke-linejoin="round"/>
<rect x="226.0" y="119.0" width="1657.6" height="637.6" fill="none" stroke="#000" stroke-width="5.7"/>
<path d="M291.5,116.2V109.2M291.5,759.5V766.5M449.5,116.2V109.2M449.5,759.5V766.5M607.5,116.2V100.2M607.5,759.5V775.5M765.5,116.2V109.2M765.5,759.5V766.5M923.5,116.2V109.2M923.5,759.5V766.5M1081.5,116.2V109.2M1081.5,759.5V766.5M1239.6,116.2V100.2M1239.6,759.5V775.5M1397.6,116.2V109.2M1397.6,759.5V766.5M1555.6,116.2V109.2M1555.6,759.5V766.5M1713.6,116.2V109.2M1713.6,759.5V766.5M1871.6,116.2V100.2M1871.6,759.5V775.5M223.2,715.9H207.2M1886.4,715.9H1902.4M223.2,580.9H207.2M1886.4,580.9H1902.4M223.2,445.9H207.2M1886.4,445.9H1902.4M223.2,310.9H207.2M1886.4,310.9H1902.4M223.2,175.9H207.2M1886.4,175.9H1902.4" stroke="#000" stroke-width="2.5" fill="none"/>
<text transform="translate(607.5,822.7) scale(1,1.06)" font-size="42.4" font-weight="bold" text-anchor="middle">2024</text>
<text transform="translate(1239.6,822.7) scale(1,1.06)" font-size="42.4" font-weight="bold" text-anchor="middle">2025</text>
<text transform="translate(1871.6,822.7) scale(1,1.06)" font-size="42.4" font-weight="bold" text-anchor="middle">2026</text>
<text transform="translate(190.3,732.3) scale(1,1.07)" font-size="42.4" font-weight="bold" text-anchor="end">−6</text>
<text transform="translate(190.3,597.3) scale(1,1.07)" font-size="42.4" font-weight="bold" text-anchor="end">−3</text>
<text transform="translate(190.3,462.3) scale(1,1.07)" font-size="42.4" font-weight="bold" text-anchor="end">0</text>
<text transform="translate(190.3,327.3) scale(1,1.07)" font-size="42.4" font-weight="bold" text-anchor="end">3</text>
<text transform="translate(190.3,192.3) scale(1,1.07)" font-size="42.4" font-weight="bold" text-anchor="end">6</text>
<text transform="translate(114.3,437.8) rotate(-90) scale(1,1.04)" font-size="42.4" text-anchor="middle">East (mm)</text>
<text transform="translate(1815.5,159.8) scale(1,1.07)" font-size="35.3" font-weight="bold" text-anchor="end">0.000+/- 0.746 mm/yr</text>
<g fill="#0000ff">
<circle cx="520.8" cy="1093.8" r="6.2"/><circle cx="505.3" cy="1112.5" r="6.2"/><circle cx="508.4" cy="1118.4" r="6.2"/><circle cx="498.0" cy="1124.6" r="6.2"/><circle cx="515.6" cy="1131.9" r="6.2"/><circle cx="551.9" cy="1116.9" r="6.2"/><circle cx="609.4" cy="1134.0" r="6.2"/><circle cx="489.0" cy="1137.1" r="6.2"/><circle cx="491.5" cy="1142.3" r="6.2"/><circle cx="562.8" cy="1138.4" r="6.2"/><circle cx="521.3" cy="1146.1" r="6.2"/><circle cx="527.8" cy="1149.5" r="6.2"/><circle cx="586.6" cy="1155.7" r="6.2"/><circle cx="492.8" cy="1151.3" r="6.2"/><circle cx="500.6" cy="1152.6" r="6.2"/><circle cx="511.0" cy="1157.8" r="6.2"/><circle cx="486.4" cy="1163.0" r="6.2"/><circle cx="500.6" cy="1164.3" r="6.2"/><circle cx="469.5" cy="1164.3" r="6.2"/><circle cx="474.7" cy="1168.2" r="6.2"/><circle cx="534.3" cy="1162.5" r="6.2"/><circle cx="560.2" cy="1169.5" r="6.2"/><circle cx="567.5" cy="1167.6" r="6.2"/><circle cx="511.0" cy="1172.0" r="6.2"/><circle cx="518.7" cy="1172.8" r="6.2"/><circle cx="525.2" cy="1173.3" r="6.2"/><circle cx="504.5" cy="1175.9" r="6.2"/><circle cx="583.5" cy="1176.5" r="6.2"/><circle cx="628.1" cy="1165.6" r="6.2"/><circle cx="609.4" cy="1177.2" r="6.2"/><circle cx="614.6" cy="1181.1" r="6.2"/><circle cx="632.7" cy="1178.5" r="6.2"/><circle cx="549.8" cy="1179.8" r="6.2"/><circle cx="557.1" cy="1183.7" r="6.2"/><circle cx="562.3" cy="1187.6" r="6.2"/><circle cx="568.0" cy="1188.9" r="6.2"/><circle cx="556.3" cy="1192.8" r="6.2"/><circle cx="579.6" cy="1190.7" r="6.2"/><circle cx="606.8" cy="1188.4" r="6.2"/><circle cx="495.4" cy="1191.5" r="6.2"/><circle cx="507.1" cy="1192.8" r="6.2"/><circle cx="519.3" cy="1199.8" r="6.2"/><circle cx="536.4" cy="1200.5" r="6.2"/><circle cx="489.7" cy="1201.3" r="6.2"/><circle cx="479.9" cy="1198.0" r="6.2"/><circle cx="466.9" cy="1203.9" r="6.2"/><circle cx="474.7" cy="1208.3" r="6.2"/><circle cx="547.2" cy="1204.4" r="6.2"/><circle cx="569.3" cy="1201.3" r="6.2"/><circle cx="577.0" cy="1207.0" r="6.2"/><circle cx="602.2" cy="1202.4" r="6.2"/><circle cx="630.1" cy="1201.8" r="6.2"/><circle cx="626.3" cy="1212.2" r="6.2"/><circle cx="636.6" cy="1208.3" r="6.2"/><circle cx="485.1" cy="1213.5" r="6.2"/><circle cx="543.4" cy="1211.7" r="6.2"/><circle cx="549.8" cy="1212.2" r="6.2"/><circle cx="573.2" cy="1213.5" r="6.2"/><circle cx="582.2" cy="1217.4" r="6.2"/><circle cx="562.0" cy="1218.7" r="6.2"/><circle cx="533.0" cy="1220.0" r="6.2"/><circle cx="540.8" cy="1222.6" r="6.2"/><circle cx="612.5" cy="1216.9" r="6.2"/><circle cx="481.2" cy="1226.5" r="6.2"/><circle cx="496.7" cy="1231.6" r="6.2"/><circle cx="460.5" cy="1237.6" r="6.2"/><circle cx="476.0" cy="1238.1" r="6.2"/><circle cx="622.4" cy="1229.0" r="6.2"/><circle cx="640.0" cy="1229.8" r="6.2"/><circle cx="571.1" cy="1235.5" r="6.2"/><circle cx="584.8" cy="1235.5" r="6.2"/><circle cx="591.3" cy="1235.0" r="6.2"/><circle cx="602.9" cy="1236.0" r="6.2"/><circle cx="605.5" cy="1243.3" r="6.2"/><circle cx="528.6" cy="1240.7" r="6.2"/><circle cx="538.2" cy="1242.0" r="6.2"/><circle cx="555.5" cy="1253.1" r="6.2"/><circle cx="531.2" cy="1258.7" r="6.2"/><circle cx="613.3" cy="1259.2" r="6.2"/><circle cx="623.7" cy="1261.8" r="6.2"/><circle cx="640.0" cy="1265.7" r="6.2"/><circle cx="465.6" cy="1267.0" r="6.2"/><circle cx="482.5" cy="1271.6" r="6.2"/><circle cx="526.0" cy="1298.8" r="6.2"/><circle cx="456.6" cy="1298.6" r="6.2"/><circle cx="458.6" cy="1309.7" r="6.2"/><circle cx="462.3" cy="1314.9" r="6.2"/><circle cx="463.8" cy="1323.4" r="6.2"/><circle cx="373.7" cy="1326.5" r="6.2"/><circle cx="335.3" cy="1345.2" r="6.2"/><circle cx="425.5" cy="1342.6" r="6.2"/><circle cx="421.6" cy="1353.7" r="6.2"/><circle cx="438.4" cy="1351.2" r="6.2"/><circle cx="441.0" cy="1362.3" r="6.2"/><circle cx="454.0" cy="1349.3" r="6.2"/><circle cx="261.0" cy="1366.2" r="6.2"/><circle cx="279.1" cy="1367.5" r="6.2"/><circle cx="293.9" cy="1369.3" r="6.2"/><circle cx="272.6" cy="1373.7" r="6.2"/><circle cx="277.3" cy="1379.6" r="6.2"/><circle cx="263.6" cy="1386.1" r="6.2"/><circle cx="268.7" cy="1393.9" r="6.2"/><circle cx="258.4" cy="1404.8" r="6.2"/><circle cx="264.9" cy="1406.8" r="6.2"/><circle cx="276.5" cy="1408.1" r="6.2"/><circle cx="280.9" cy="1410.7" r="6.2"/><circle cx="342.6" cy="1362.3" r="6.2"/><circle cx="352.9" cy="1362.8" r="6.2"/><circle cx="360.7" cy="1366.7" r="6.2"/><circle cx="370.6" cy="1360.7" r="6.2"/><circle cx="389.2" cy="1366.2" r="6.2"/><circle cx="340.8" cy="1375.8" r="6.2"/><circle cx="337.9" cy="1390.0" r="6.2"/><circle cx="364.6" cy="1393.4" r="6.2"/><circle cx="375.7" cy="1391.3" r="6.2"/><circle cx="378.8" cy="1400.4" r="6.2"/><circle cx="382.0" cy="1404.3" r="6.2"/><circle cx="376.3" cy="1406.8" r="6.2"/><circle cx="393.1" cy="1398.6" r="6.2"/><circle cx="402.2" cy="1388.7" r="6.2"/><circle cx="410.5" cy="1385.6" r="6.2"/><circle cx="412.5" cy="1396.0" r="6.2"/><circle cx="407.3" cy="1401.7" r="6.2"/><circle cx="404.8" cy="1406.8" r="6.2"/><circle cx="406.8" cy="1412.5" r="6.2"/><circle cx="418.2" cy="1371.9" r="6.2"/><circle cx="432.0" cy="1378.4" r="6.2"/><circle cx="443.6" cy="1381.5" r="6.2"/><circle cx="449.3" cy="1383.5" r="6.2"/><circle cx="437.9" cy="1402.2" r="6.2"/><circle cx="446.7" cy="1399.1" r="6.2"/><circle cx="427.6" cy="1410.7" r="6.2"/><circle cx="451.4" cy="1418.5" r="6.2"/><circle cx="332.7" cy="1403.0" r="6.2"/><circle cx="329.1" cy="1405.6" r="6.2"/><circle cx="321.9" cy="1412.0" r="6.2"/><circle cx="331.7" cy="1420.3" r="6.2"/><circle cx="319.8" cy="1424.5" r="6.2"/><circle cx="325.0" cy="1430.2" r="6.2"/><circle cx="298.5" cy="1416.7" r="6.2"/><circle cx="352.9" cy="1417.2" r="6.2"/><circle cx="358.6" cy="1412.5" r="6.2"/><circle cx="368.0" cy="1415.1" r="6.2"/><circle cx="363.3" cy="1423.7" r="6.2"/><circle cx="346.5" cy="1431.5" r="6.2"/><circle cx="385.3" cy="1414.6" r="6.2"/><circle cx="395.7" cy="1419.8" r="6.2"/><circle cx="401.6" cy="1432.2" r="6.2"/><circle cx="303.7" cy="1434.1" r="6.2"/><circle cx="295.4" cy="1438.5" r="6.2"/><circle cx="310.2" cy="1441.0" r="6.2"/><circle cx="302.4" cy="1444.4" r="6.2"/><circle cx="290.2" cy="1445.2" r="6.2"/><circle cx="270.0" cy="1452.2" r="6.2"/><circle cx="283.5" cy="1454.8" r="6.2"/><circle cx="327.0" cy="1447.8" r="6.2"/><circle cx="349.8" cy="1458.1" r="6.2"/><circle cx="383.5" cy="1444.4" r="6.2"/><circle cx="378.8" cy="1452.2" r="6.2"/><circle cx="382.7" cy="1460.0" r="6.2"/><circle cx="391.8" cy="1461.3" r="6.2"/><circle cx="400.1" cy="1463.8" r="6.2"/><circle cx="413.8" cy="1454.8" r="6.2"/><circle cx="413.0" cy="1460.0" r="6.2"/><circle cx="430.7" cy="1430.7" r="6.2"/><circle cx="424.2" cy="1436.6" r="6.2"/><circle cx="444.9" cy="1437.9" r="6.2"/><circle cx="434.0" cy="1451.4" r="6.2"/><circle cx="315.4" cy="1469.0" r="6.2"/><circle cx="329.1" cy="1468.5" r="6.2"/><circle cx="288.2" cy="1474.2" r="6.2"/><circle cx="286.1" cy="1480.7" r="6.2"/><circle cx="308.4" cy="1481.5" r="6.2"/><circle cx="316.7" cy="1480.7" r="6.2"/><circle cx="312.8" cy="1491.0" r="6.2"/><circle cx="281.7" cy="1497.5" r="6.2"/><circle cx="300.6" cy="1497.5" r="6.2"/><circle cx="397.8" cy="1484.1" r="6.2"/><circle cx="416.9" cy="1476.8" r="6.2"/><circle cx="429.4" cy="1472.4" r="6.2"/><circle cx="307.9" cy="1514.9" r="6.2"/><circle cx="318.2" cy="1551.9" r="6.2"/><circle cx="292.3" cy="1560.2" r="6.2"/><circle cx="683.7" cy="1120.2" r="6.2"/><circle cx="697.5" cy="1133.2" r="6.2"/><circle cx="687.1" cy="1140.2" r="6.2"/><circle cx="678.6" cy="1147.4" r="6.2"/><circle cx="725.2" cy="1147.4" r="6.2"/><circle cx="650.8" cy="1158.3" r="6.2"/><circle cx="672.9" cy="1159.9" r="6.2"/><circle cx="865.1" cy="1164.3" r="6.2"/><circle cx="688.9" cy="1173.3" r="6.2"/><circle cx="726.5" cy="1179.0" r="6.2"/><circle cx="674.7" cy="1187.6" r="6.2"/><circle cx="685.6" cy="1185.8" r="6.2"/><circle cx="668.2" cy="1194.1" r="6.2"/><circle cx="671.6" cy="1199.2" r="6.2"/><circle cx="699.3" cy="1191.5" r="6.2"/><circle cx="709.7" cy="1186.8" r="6.2"/><circle cx="721.3" cy="1193.3" r="6.2"/><circle cx="729.1" cy="1204.4" r="6.2"/><circle cx="695.4" cy="1201.8" r="6.2"/><circle cx="692.3" cy="1209.6" r="6.2"/><circle cx="709.7" cy="1209.6" r="6.2"/><circle cx="720.0" cy="1214.3" r="6.2"/><circle cx="652.7" cy="1207.0" r="6.2"/><circle cx="643.6" cy="1213.5" r="6.2"/><circle cx="769.2" cy="1200.5" r="6.2"/><circle cx="778.3" cy="1199.8" r="6.2"/><circle cx="809.9" cy="1202.6" r="6.2"/><circle cx="848.3" cy="1193.3" r="6.2"/><circle cx="858.6" cy="1189.7" r="6.2"/><circle cx="868.5" cy="1199.8" r="6.2"/><circle cx="843.1" cy="1209.1" r="6.2"/><circle cx="849.5" cy="1209.1" r="6.2"/><circle cx="808.1" cy="1218.2" r="6.2"/><circle cx="747.7" cy="1223.1" r="6.2"/><circle cx="763.3" cy="1225.7" r="6.2"/><circle cx="751.1" cy="1234.2" r="6.2"/><circle cx="681.9" cy="1222.0" r="6.2"/><circle cx="679.9" cy="1230.3" r="6.2"/><circle cx="700.6" cy="1221.3" r="6.2"/><circle cx="703.2" cy="1230.3" r="6.2"/><circle cx="708.9" cy="1232.4" r="6.2"/><circle cx="657.1" cy="1239.4" r="6.2"/><circle cx="664.3" cy="1238.1" r="6.2"/><circle cx="659.1" cy="1232.9" r="6.2"/><circle cx="646.2" cy="1247.2" r="6.2"/><circle cx="676.0" cy="1244.6" r="6.2"/><circle cx="694.1" cy="1242.0" r="6.2"/><circle cx="705.8" cy="1243.8" r="6.2"/><circle cx="723.4" cy="1242.8" r="6.2"/><circle cx="716.1" cy="1249.8" r="6.2"/><circle cx="740.7" cy="1245.9" r="6.2"/><circle cx="733.7" cy="1250.5" r="6.2"/><circle cx="767.9" cy="1242.0" r="6.2"/><circle cx="766.6" cy="1252.4" r="6.2"/><circle cx="801.6" cy="1236.8" r="6.2"/><circle cx="797.7" cy="1247.2" r="6.2"/><circle cx="817.2" cy="1232.4" r="6.2"/><circle cx="822.3" cy="1227.7" r="6.2"/><circle cx="830.1" cy="1226.5" r="6.2"/><circle cx="817.2" cy="1247.2" r="6.2"/><circle cx="828.8" cy="1248.5" r="6.2"/><circle cx="844.4" cy="1243.3" r="6.2"/><circle cx="851.4" cy="1222.0" r="6.2"/><circle cx="856.0" cy="1222.6" r="6.2"/><circle cx="863.3" cy="1229.0" r="6.2"/><circle cx="877.3" cy="1220.8" r="6.2"/><circle cx="875.5" cy="1235.5" r="6.2"/><circle cx="879.3" cy="1239.4" r="6.2"/><circle cx="861.7" cy="1249.0" r="6.2"/><circle cx="907.8" cy="1249.0" r="6.2"/><circle cx="939.7" cy="1242.0" r="6.2"/><circle cx="1005.0" cy="1231.6" r="6.2"/><circle cx="1014.1" cy="1245.9" r="6.2"/><circle cx="1032.7" cy="1244.6" r="6.2"/><circle cx="644.9" cy="1266.4" r="6.2"/><circle cx="655.2" cy="1264.9" r="6.2"/><circle cx="660.4" cy="1270.8" r="6.2"/><circle cx="666.9" cy="1264.9" r="6.2"/><circle cx="668.2" cy="1272.1" r="6.2"/><circle cx="690.2" cy="1276.8" r="6.2"/><circle cx="731.7" cy="1264.4" r="6.2"/><circle cx="742.0" cy="1265.7" r="6.2"/><circle cx="749.8" cy="1270.1" r="6.2"/><circle cx="730.4" cy="1275.2" r="6.2"/><circle cx="718.2" cy="1279.4" r="6.2"/><circle cx="714.8" cy="1286.4" r="6.2"/><circle cx="713.0" cy="1300.1" r="6.2"/><circle cx="756.3" cy="1287.7" r="6.2"/><circle cx="764.8" cy="1297.5" r="6.2"/><circle cx="738.9" cy="1301.9" r="6.2"/><circle cx="737.4" cy="1316.2" r="6.2"/><circle cx="745.9" cy="1323.4" r="6.2"/><circle cx="744.1" cy="1331.7" r="6.2"/><circle cx="754.5" cy="1330.4" r="6.2"/><circle cx="759.7" cy="1261.3" r="6.2"/><circle cx="767.9" cy="1257.9" r="6.2"/><circle cx="775.7" cy="1261.3" r="6.2"/><circle cx="773.1" cy="1268.2" r="6.2"/><circle cx="782.2" cy="1268.2" r="6.2"/><circle cx="790.7" cy="1266.4" r="6.2"/><circle cx="797.7" cy="1268.2" r="6.2"/><circle cx="804.2" cy="1277.3" r="6.2"/><circle cx="780.9" cy="1292.9" r="6.2"/><circle cx="778.3" cy="1297.5" r="6.2"/><circle cx="788.7" cy="1297.5" r="6.2"/><circle cx="795.1" cy="1292.3" r="6.2"/><circle cx="806.8" cy="1290.3" r="6.2"/><circle cx="802.9" cy="1303.7" r="6.2"/><circle cx="812.0" cy="1313.1" r="6.2"/><circle cx="787.4" cy="1318.8" r="6.2"/><circle cx="785.6" cy="1338.2" r="6.2"/><circle cx="823.6" cy="1294.2" r="6.2"/><circle cx="834.0" cy="1303.2" r="6.2"/><circle cx="825.5" cy="1279.9" r="6.2"/><circle cx="839.2" cy="1282.0" r="6.2"/><circle cx="832.2" cy="1263.1" r="6.2"/><circle cx="840.5" cy="1267.5" r="6.2"/><circle cx="847.7" cy="1265.7" r="6.2"/><circle cx="859.9" cy="1266.4" r="6.2"/><circle cx="856.5" cy="1276.8" r="6.2"/><circle cx="852.9" cy="1286.4" r="6.2"/><circle cx="837.4" cy="1323.9" r="6.2"/><circle cx="835.8" cy="1334.3" r="6.2"/><circle cx="752.4" cy="1360.2" r="6.2"/><circle cx="758.1" cy="1358.9" r="6.2"/><circle cx="887.6" cy="1262.3" r="6.2"/><circle cx="900.1" cy="1260.5" r="6.2"/><circle cx="907.8" cy="1256.1" r="6.2"/><circle cx="896.2" cy="1274.7" r="6.2"/><circle cx="910.4" cy="1273.4" r="6.2"/><circle cx="998.5" cy="1257.1" r="6.2"/><circle cx="1047.2" cy="1263.1" r="6.2"/><circle cx="986.1" cy="1271.6" r="6.2"/><circle cx="1006.8" cy="1271.6" r="6.2"/><circle cx="1003.2" cy="1277.8" r="6.2"/><circle cx="1034.3" cy="1276.8" r="6.2"/><circle cx="993.3" cy="1296.0" r="6.2"/><circle cx="1026.2" cy="1298.0" r="6.2"/><circle cx="905.2" cy="1298.6" r="6.2"/><circle cx="913.0" cy="1301.9" r="6.2"/><circle cx="920.8" cy="1308.4" r="6.2"/><circle cx="927.3" cy="1303.2" r="6.2"/><circle cx="933.7" cy="1305.3" r="6.2"/><circle cx="938.4" cy="1314.1" r="6.2"/><circle cx="950.6" cy="1320.1" r="6.2"/><circle cx="888.4" cy="1315.7" r="6.2"/><circle cx="896.2" cy="1316.2" r="6.2"/><circle cx="913.0" cy="1323.4" r="6.2"/><circle cx="919.5" cy="1326.5" r="6.2"/><circle cx="926.0" cy="1320.8" r="6.2"/><circle cx="932.5" cy="1323.9" r="6.2"/><circle cx="916.9" cy="1331.2" r="6.2"/><circle cx="941.0" cy="1334.8" r="6.2"/><circle cx="953.2" cy="1334.3" r="6.2"/><circle cx="959.1" cy="1331.7" r="6.2"/><circle cx="967.4" cy="1315.7" r="6.2"/><circle cx="975.2" cy="1323.9" r="6.2"/><circle cx="980.4" cy="1331.2" r="6.2"/><circle cx="986.9" cy="1331.7" r="6.2"/><circle cx="997.2" cy="1331.7" r="6.2"/><circle cx="979.1" cy="1343.4" r="6.2"/><circle cx="989.4" cy="1349.3" r="6.2"/><circle cx="1008.9" cy="1340.0" r="6.2"/><circle cx="1011.5" cy="1326.0" r="6.2"/><circle cx="1019.2" cy="1331.7" r="6.2"/><circle cx="1027.0" cy="1336.4" r="6.2"/><circle cx="1040.0" cy="1316.2" r="6.2"/><circle cx="1054.2" cy="1316.2" r="6.2"/><circle cx="1043.8" cy="1325.2" r="6.2"/><circle cx="1040.0" cy="1342.6" r="6.2"/><circle cx="1051.6" cy="1340.8" r="6.2"/><circle cx="1045.1" cy="1351.9" r="6.2"/><circle cx="891.0" cy="1338.2" r="6.2"/><circle cx="893.6" cy="1343.4" r="6.2"/><circle cx="897.5" cy="1349.9" r="6.2"/><circle cx="926.0" cy="1360.2" r="6.2"/><circle cx="944.1" cy="1353.0" r="6.2"/><circle cx="943.6" cy="1358.9" r="6.2"/><circle cx="992.0" cy="1368.0" r="6.2"/><circle cx="1024.4" cy="1364.9" r="6.2"/><circle cx="960.9" cy="1377.1" r="6.2"/><circle cx="972.6" cy="1373.2" r="6.2"/><circle cx="984.3" cy="1377.8" r="6.2"/><circle cx="976.5" cy="1390.0" r="6.2"/><circle cx="1052.9" cy="1379.6" r="6.2"/><circle cx="1054.2" cy="1387.4" r="6.2"/><circle cx="1020.5" cy="1388.2" r="6.2"/><circle cx="915.6" cy="1391.3" r="6.2"/><circle cx="946.2" cy="1398.6" r="6.2"/><circle cx="1001.6" cy="1395.2" r="6.2"/><circle cx="1029.6" cy="1398.6" r="6.2"/><circle cx="1040.0" cy="1397.8" r="6.2"/><circle cx="982.5" cy="1408.1" r="6.2"/><circle cx="955.0" cy="1415.9" r="6.2"/><circle cx="963.5" cy="1415.9" r="6.2"/><circle cx="971.3" cy="1417.2" r="6.2"/><circle cx="1049.0" cy="1415.1" r="6.2"/><circle cx="999.8" cy="1427.1" r="6.2"/><circle cx="1012.8" cy="1425.5" r="6.2"/><circle cx="977.8" cy="1434.1" r="6.2"/><circle cx="1019.2" cy="1447.8" r="6.2"/><circle cx="1036.1" cy="1486.4" r="6.2"/><circle cx="1164.3" cy="947.2" r="6.2"/><circle cx="1157.6" cy="1017.4" r="6.2"/><circle cx="1145.4" cy="1074.4" r="6.2"/><circle cx="1096.9" cy="1098.7" r="6.2"/><circle cx="1122.8" cy="1094.3" r="6.2"/><circle cx="1136.8" cy="1089.9" r="6.2"/><circle cx="1135.0" cy="1100.3" r="6.2"/><circle cx="1138.9" cy="1106.5" r="6.2"/><circle cx="1109.1" cy="1113.2" r="6.2"/><circle cx="1116.1" cy="1115.1" r="6.2"/><circle cx="1126.5" cy="1124.1" r="6.2"/><circle cx="1140.2" cy="1128.5" r="6.2"/><circle cx="1152.4" cy="1129.8" r="6.2"/><circle cx="1162.7" cy="1131.4" r="6.2"/><circle cx="1155.7" cy="1139.7" r="6.2"/><circle cx="1117.4" cy="1138.4" r="6.2"/><circle cx="1141.5" cy="1150.5" r="6.2"/><circle cx="1160.9" cy="1153.9" r="6.2"/><circle cx="1110.9" cy="1172.0" r="6.2"/><circle cx="1115.6" cy="1171.3" r="6.2"/><circle cx="1133.2" cy="1173.3" r="6.2"/><circle cx="1131.1" cy="1183.7" r="6.2"/><circle cx="1143.6" cy="1183.2" r="6.2"/><circle cx="1148.7" cy="1192.0" r="6.2"/><circle cx="1110.4" cy="1192.8" r="6.2"/><circle cx="1103.9" cy="1198.0" r="6.2"/><circle cx="1100.0" cy="1204.9" r="6.2"/><circle cx="1119.5" cy="1204.4" r="6.2"/><circle cx="1120.8" cy="1213.5" r="6.2"/><circle cx="1098.7" cy="1224.6" r="6.2"/><circle cx="1124.7" cy="1230.9" r="6.2"/><circle cx="1159.6" cy="1223.9" r="6.2"/><circle cx="1067.7" cy="1245.4" r="6.2"/><circle cx="1399.3" cy="1243.8" r="6.2"/><circle cx="1432.9" cy="1244.6" r="6.2"/><circle cx="1439.9" cy="1231.6" r="6.2"/><circle cx="1074.1" cy="1257.9" r="6.2"/><circle cx="1081.9" cy="1257.9" r="6.2"/><circle cx="1091.8" cy="1272.7" r="6.2"/><circle cx="1085.0" cy="1307.1" r="6.2"/><circle cx="1102.6" cy="1303.2" r="6.2"/><circle cx="1107.8" cy="1300.1" r="6.2"/><circle cx="1059.9" cy="1314.9" r="6.2"/><circle cx="1072.8" cy="1322.7" r="6.2"/><circle cx="1079.8" cy="1328.6" r="6.2"/><circle cx="1088.4" cy="1323.4" r="6.2"/><circle cx="1103.9" cy="1323.9" r="6.2"/><circle cx="1061.2" cy="1343.4" r="6.2"/><circle cx="1065.1" cy="1351.9" r="6.2"/><circle cx="1065.8" cy="1358.9" r="6.2"/><circle cx="1076.2" cy="1343.4" r="6.2"/><circle cx="1083.2" cy="1351.9" r="6.2"/><circle cx="1094.9" cy="1350.4" r="6.2"/><circle cx="1086.6" cy="1362.8" r="6.2"/><circle cx="1058.6" cy="1380.9" r="6.2"/><circle cx="1063.3" cy="1393.4" r="6.2"/><circle cx="1078.0" cy="1389.2" r="6.2"/><circle cx="1069.5" cy="1440.5" r="6.2"/><circle cx="1128.0" cy="1436.6" r="6.2"/><circle cx="1071.0" cy="1462.5" r="6.2"/><circle cx="1090.2" cy="1462.5" r="6.2"/><circle cx="1398.0" cy="1289.0" r="6.2"/><circle cx="1401.9" cy="1300.6" r="6.2"/><circle cx="1404.4" cy="1308.4" r="6.2"/><circle cx="1413.5" cy="1311.5" r="6.2"/><circle cx="1414.8" cy="1299.3" r="6.2"/><circle cx="1422.6" cy="1292.9" r="6.2"/><circle cx="1429.1" cy="1300.1" r="6.2"/><circle cx="1434.8" cy="1294.2" r="6.2"/><circle cx="1436.8" cy="1282.0" r="6.2"/><circle cx="1452.4" cy="1282.5" r="6.2"/><circle cx="1456.3" cy="1296.7" r="6.2"/><circle cx="1452.4" cy="1303.2" r="6.2"/><circle cx="1465.3" cy="1307.9" r="6.2"/><circle cx="1427.8" cy="1313.1" r="6.2"/><circle cx="1442.0" cy="1316.2" r="6.2"/><circle cx="1447.2" cy="1317.5" r="6.2"/><circle cx="1458.8" cy="1317.5" r="6.2"/><circle cx="1417.4" cy="1326.5" r="6.2"/><circle cx="1421.3" cy="1329.1" r="6.2"/><circle cx="1423.9" cy="1336.9" r="6.2"/><circle cx="1430.4" cy="1343.4" r="6.2"/><circle cx="1425.2" cy="1348.6" r="6.2"/><circle cx="1410.9" cy="1349.3" r="6.2"/><circle cx="1407.0" cy="1362.8" r="6.2"/><circle cx="1403.2" cy="1367.5" r="6.2"/><circle cx="1448.5" cy="1346.0" r="6.2"/><circle cx="1440.7" cy="1359.7" r="6.2"/><circle cx="1444.6" cy="1366.7" r="6.2"/><circle cx="1451.1" cy="1358.9" r="6.2"/><circle cx="1456.3" cy="1362.8" r="6.2"/><circle cx="1462.7" cy="1368.0" r="6.2"/><circle cx="1467.9" cy="1353.7" r="6.2"/><circle cx="1470.0" cy="1365.4" r="6.2"/><circle cx="1469.2" cy="1382.2" r="6.2"/><circle cx="1464.0" cy="1391.3" r="6.2"/><circle cx="1739.1" cy="1019.2" r="6.2"/><circle cx="1836.8" cy="1016.6" r="6.2"/><circle cx="1851.8" cy="1012.7" r="6.2"/><circle cx="1742.5" cy="1040.7" r="6.2"/><circle cx="1766.3" cy="1038.6" r="6.2"/><circle cx="1773.6" cy="1041.2" r="6.2"/><circle cx="1820.2" cy="1035.5" r="6.2"/><circle cx="1756.5" cy="1056.0" r="6.2"/><circle cx="1736.5" cy="1061.4" r="6.2"/><circle cx="1744.3" cy="1064.0" r="6.2"/><circle cx="1827.2" cy="1047.7" r="6.2"/><circle cx="1836.3" cy="1051.1" r="6.2"/><circle cx="1843.5" cy="1058.1" r="6.2"/><circle cx="1813.5" cy="1063.8" r="6.2"/><circle cx="1828.5" cy="1061.9" r="6.2"/><circle cx="1832.4" cy="1068.4" r="6.2"/><circle cx="1844.1" cy="1073.6" r="6.2"/><circle cx="1730.1" cy="1078.0" r="6.2"/><circle cx="1742.5" cy="1084.0" r="6.2"/><circle cx="1759.1" cy="1079.6" r="6.2"/><circle cx="1752.1" cy="1087.8" r="6.2"/><circle cx="1755.5" cy="1094.3" r="6.2"/><circle cx="1814.3" cy="1074.4" r="6.2"/><circle cx="1819.4" cy="1080.1" r="6.2"/><circle cx="1825.9" cy="1081.4" r="6.2"/><circle cx="1840.9" cy="1084.7" r="6.2"/><circle cx="1846.6" cy="1094.3" r="6.2"/><circle cx="1733.2" cy="1094.3" r="6.2"/><circle cx="1728.8" cy="1102.1" r="6.2"/><circle cx="1726.2" cy="1109.9" r="6.2"/><circle cx="1766.3" cy="1098.7" r="6.2"/><circle cx="1785.8" cy="1092.5" r="6.2"/><circle cx="1793.5" cy="1095.1" r="6.2"/><circle cx="1797.9" cy="1103.4" r="6.2"/><circle cx="1780.6" cy="1102.1" r="6.2"/><circle cx="1772.0" cy="1109.9" r="6.2"/><circle cx="1824.6" cy="1103.4" r="6.2"/><circle cx="1831.1" cy="1108.1" r="6.2"/><circle cx="1835.0" cy="1120.2" r="6.2"/><circle cx="1807.3" cy="1115.8" r="6.2"/><circle cx="1818.2" cy="1121.0" r="6.2"/><circle cx="1752.9" cy="1118.4" r="6.2"/><circle cx="1762.5" cy="1121.0" r="6.2"/><circle cx="1776.7" cy="1122.0" r="6.2"/><circle cx="1783.2" cy="1126.2" r="6.2"/><circle cx="1789.7" cy="1132.4" r="6.2"/><circle cx="1802.1" cy="1128.0" r="6.2"/><circle cx="1747.7" cy="1128.8" r="6.2"/><circle cx="1724.9" cy="1128.0" r="6.2"/><circle cx="1719.7" cy="1134.5" r="6.2"/><circle cx="1718.4" cy="1139.7" r="6.2"/><circle cx="1763.7" cy="1141.0" r="6.2"/><circle cx="1770.2" cy="1145.4" r="6.2"/><circle cx="1780.6" cy="1151.3" r="6.2"/><circle cx="1796.1" cy="1143.5" r="6.2"/><circle cx="1805.2" cy="1146.1" r="6.2"/><circle cx="1809.1" cy="1144.3" r="6.2"/><circle cx="1746.1" cy="1148.0" r="6.2"/><circle cx="1692.5" cy="1151.3" r="6.2"/><circle cx="1715.0" cy="1159.9" r="6.2"/><circle cx="1809.9" cy="1163.0" r="6.2"/><circle cx="1787.6" cy="1173.3" r="6.2"/><circle cx="1702.9" cy="1181.1" r="6.2"/><circle cx="1701.1" cy="1190.2" r="6.2"/><circle cx="1713.2" cy="1192.8" r="6.2"/><circle cx="1705.5" cy="1207.0" r="6.2"/><circle cx="1708.8" cy="1208.3" r="6.2"/><circle cx="1666.6" cy="1224.6" r="6.2"/><circle cx="1713.2" cy="1223.9" r="6.2"/><circle cx="1716.6" cy="1222.6" r="6.2"/><circle cx="1775.4" cy="1222.6" r="6.2"/><circle cx="1685.5" cy="1248.5" r="6.2"/><circle cx="1607.8" cy="1261.8" r="6.2"/><circle cx="1626.4" cy="1264.9" r="6.2"/><circle cx="1673.1" cy="1258.7" r="6.2"/><circle cx="1690.7" cy="1264.4" r="6.2"/><circle cx="1687.3" cy="1269.5" r="6.2"/><circle cx="1671.8" cy="1271.6" r="6.2"/><circle cx="1677.0" cy="1279.9" r="6.2"/><circle cx="1670.0" cy="1286.4" r="6.2"/><circle cx="1682.9" cy="1289.8" r="6.2"/><circle cx="1698.5" cy="1288.2" r="6.2"/><circle cx="1522.8" cy="1271.6" r="6.2"/><circle cx="1518.9" cy="1279.9" r="6.2"/><circle cx="1513.7" cy="1287.7" r="6.2"/><circle cx="1623.3" cy="1279.9" r="6.2"/><circle cx="1632.1" cy="1280.4" r="6.2"/><circle cx="1626.4" cy="1285.6" r="6.2"/><circle cx="1597.9" cy="1288.2" r="6.2"/><circle cx="1638.9" cy="1299.3" r="6.2"/><circle cx="1550.8" cy="1294.9" r="6.2"/><circle cx="1527.5" cy="1296.0" r="6.2"/><circle cx="1534.5" cy="1302.7" r="6.2"/><circle cx="1507.3" cy="1305.3" r="6.2"/><circle cx="1516.3" cy="1303.2" r="6.2"/><circle cx="1512.5" cy="1315.7" r="6.2"/><circle cx="1529.3" cy="1308.4" r="6.2"/><circle cx="1537.1" cy="1317.5" r="6.2"/><circle cx="1605.7" cy="1300.6" r="6.2"/><circle cx="1612.2" cy="1301.9" r="6.2"/><circle cx="1620.0" cy="1295.5" r="6.2"/><circle cx="1610.9" cy="1309.7" r="6.2"/><circle cx="1614.8" cy="1317.5" r="6.2"/><circle cx="1627.7" cy="1308.9" r="6.2"/><circle cx="1635.5" cy="1314.9" r="6.2"/><circle cx="1638.1" cy="1320.8" r="6.2"/><circle cx="1644.6" cy="1327.8" r="6.2"/><circle cx="1555.2" cy="1315.7" r="6.2"/><circle cx="1478.8" cy="1316.2" r="6.2"/><circle cx="1489.1" cy="1320.8" r="6.2"/><circle cx="1477.5" cy="1329.1" r="6.2"/><circle cx="1498.2" cy="1330.4" r="6.2"/><circle cx="1486.5" cy="1336.9" r="6.2"/><circle cx="1493.0" cy="1336.4" r="6.2"/><circle cx="1545.6" cy="1331.2" r="6.2"/><circle cx="1557.8" cy="1336.4" r="6.2"/><circle cx="1574.1" cy="1330.4" r="6.2"/><circle cx="1585.0" cy="1325.2" r="6.2"/><circle cx="1594.1" cy="1321.4" r="6.2"/><circle cx="1601.8" cy="1320.1" r="6.2"/><circle cx="1591.5" cy="1329.1" r="6.2"/><circle cx="1600.5" cy="1329.1" r="6.2"/><circle cx="1600.5" cy="1339.5" r="6.2"/><circle cx="1616.1" cy="1333.0" r="6.2"/><circle cx="1574.6" cy="1340.8" r="6.2"/><circle cx="1639.4" cy="1338.2" r="6.2"/><circle cx="1647.2" cy="1340.8" r="6.2"/><circle cx="1473.6" cy="1347.3" r="6.2"/><circle cx="1495.6" cy="1347.3" r="6.2"/><circle cx="1503.4" cy="1346.0" r="6.2"/><circle cx="1512.5" cy="1345.2" r="6.2"/><circle cx="1540.9" cy="1343.4" r="6.2"/><circle cx="1570.7" cy="1351.9" r="6.2"/><circle cx="1569.4" cy="1358.9" r="6.2"/><circle cx="1588.9" cy="1355.0" r="6.2"/><circle cx="1582.9" cy="1361.5" r="6.2"/><circle cx="1522.8" cy="1356.3" r="6.2"/><circle cx="1520.7" cy="1364.1" r="6.2"/><circle cx="1537.1" cy="1360.2" r="6.2"/><circle cx="1481.4" cy="1357.6" r="6.2"/><circle cx="1489.1" cy="1360.7" r="6.2"/><circle cx="1499.5" cy="1365.4" r="6.2"/><circle cx="1473.6" cy="1368.0" r="6.2"/><circle cx="1482.7" cy="1371.9" r="6.2"/><circle cx="1620.0" cy="1349.3" r="6.2"/><circle cx="1631.1" cy="1353.7" r="6.2"/><circle cx="1642.0" cy="1355.6" r="6.2"/><circle cx="1660.1" cy="1348.6" r="6.2"/><circle cx="1660.1" cy="1365.9" r="6.2"/><circle cx="1653.6" cy="1373.2" r="6.2"/><circle cx="1648.5" cy="1380.9" r="6.2"/><circle cx="1680.3" cy="1343.4" r="6.2"/><circle cx="1682.9" cy="1308.4" r="6.2"/><circle cx="1699.0" cy="1310.5" r="6.2"/><circle cx="1674.4" cy="1315.7" r="6.2"/><circle cx="1664.0" cy="1320.8" r="6.2"/><circle cx="1553.9" cy="1374.5" r="6.2"/><circle cx="1564.3" cy="1380.9" r="6.2"/><circle cx="1567.4" cy="1388.7" r="6.2"/><circle cx="1579.8" cy="1388.7" r="6.2"/><circle cx="1472.3" cy="1382.2" r="6.2"/><circle cx="1476.2" cy="1390.0" r="6.2"/><circle cx="1503.4" cy="1380.9" r="6.2"/><circle cx="1539.7" cy="1383.0" r="6.2"/><circle cx="1649.8" cy="1391.3" r="6.2"/><circle cx="1678.3" cy="1393.4" r="6.2"/><circle cx="1649.2" cy="1405.0" r="6.2"/><circle cx="1564.3" cy="1405.6" r="6.2"/><circle cx="1561.2" cy="1424.5" r="6.2"/><circle cx="1559.1" cy="1434.1" r="6.2"/><circle cx="1652.3" cy="1423.7" r="6.2"/><circle cx="1578.0" cy="1459.2" r="6.2"/>
</g>
<path d="M258.4,1336.2 L261.1,1338.6 L263.7,1341.1 L266.4,1343.5 L269.0,1346.0 L271.7,1348.4 L274.4,1350.8 L277.0,1353.2 L279.7,1355.5 L282.3,1357.8 L285.0,1360.1 L287.7,1362.3 L290.3,1364.4 L293.0,1366.5 L295.6,1368.5 L298.3,1370.5 L301.0,1372.3 L303.6,1374.1 L306.3,1375.8 L308.9,1377.3 L311.6,1378.8 L314.3,1380.1 L316.9,1381.4 L319.6,1382.5 L322.2,1383.4 L324.9,1384.3 L327.5,1385.0 L330.2,1385.5 L332.9,1385.9 L335.5,1386.2 L338.2,1386.3 L340.8,1386.3 L343.5,1386.0 L346.2,1385.7 L348.8,1385.1 L351.5,1384.4 L354.1,1383.5 L356.8,1382.5 L359.5,1381.3 L362.1,1379.9 L364.8,1378.3 L367.4,1376.6 L370.1,1374.7 L372.8,1372.6 L375.4,1370.4 L378.1,1368.0 L380.7,1365.4 L383.4,1362.7 L386.1,1359.8 L388.7,1356.8 L391.4,1353.6 L394.0,1350.2 L396.7,1346.7 L399.4,1343.1 L402.0,1339.3 L404.7,1335.5 L407.3,1331.4 L410.0,1327.3 L412.7,1323.1 L415.3,1318.7 L418.0,1314.3 L420.6,1309.7 L423.3,1305.1 L426.0,1300.4 L428.6,1295.7 L431.3,1290.8 L433.9,1286.0 L436.6,1281.0 L439.3,1276.1 L441.9,1271.1 L444.6,1266.1 L447.2,1261.1 L449.9,1256.0 L452.6,1251.0 L455.2,1246.0 L457.9,1241.0 L460.5,1236.1 L463.2,1231.2 L465.8,1226.3 L468.5,1221.5 L471.2,1216.7 L473.8,1212.0 L476.5,1207.4 L479.1,1202.9 L481.8,1198.5 L484.5,1194.1 L487.1,1189.9 L489.8,1185.8 L492.4,1181.8 L495.1,1178.0 L497.8,1174.3 L500.4,1170.7 L503.1,1167.2 L505.7,1163.9 L508.4,1160.8 L511.1,1157.8 L513.7,1155.0 L516.4,1152.3 L519.0,1149.8 L521.7,1147.5 L524.4,1145.4 L527.0,1143.4 L529.7,1141.6 L532.3,1140.0 L535.0,1138.6 L537.7,1137.3 L540.3,1136.3 L543.0,1135.4 L545.6,1134.7 L548.3,1134.2 L551.0,1133.8 L553.6,1133.7 L556.3,1133.7 L558.9,1133.8 L561.6,1134.2 L564.3,1134.7 L566.9,1135.4 L569.6,1136.2 L572.2,1137.2 L574.9,1138.4 L577.6,1139.7 L580.2,1141.1 L582.9,1142.7 L585.5,1144.4 L588.2,1146.2 L590.8,1148.2 L593.5,1150.2 L596.2,1152.4 L598.8,1154.7 L601.5,1157.1 L604.1,1159.5 L606.8,1162.1 L609.5,1164.7 L612.1,1167.4 L614.8,1170.1 L617.4,1172.9 L620.1,1175.8 L622.8,1178.7 L625.4,1181.6 L628.1,1184.6 L630.7,1187.6 L633.4,1190.6 L636.1,1193.6 L638.7,1196.6 L641.4,1199.6 L644.0,1202.6 L646.7,1205.6 L649.4,1208.5 L652.0,1211.5 L654.7,1214.4 L657.3,1217.2 L660.0,1220.0 L662.7,1222.8 L665.3,1225.5 L668.0,1228.2 L670.6,1230.8 L673.3,1233.3 L676.0,1235.8 L678.6,1238.2 L681.3,1240.5 L683.9,1242.8 L686.6,1245.0 L689.3,1247.1 L691.9,1249.1 L694.6,1251.0 L697.2,1252.9 L699.9,1254.6 L702.6,1256.3 L705.2,1257.9 L707.9,1259.5 L710.5,1260.9 L713.2,1262.3 L715.9,1263.5 L718.5,1264.8 L721.2,1265.9 L723.8,1266.9 L726.5,1267.9 L729.1,1268.8 L731.8,1269.7 L734.5,1270.5 L737.1,1271.2 L739.8,1271.9 L742.4,1272.5 L745.1,1273.0 L747.8,1273.6 L750.4,1274.0 L753.1,1274.5 L755.7,1274.9 L758.4,1275.3 L761.1,1275.7 L763.7,1276.0 L766.4,1276.3 L769.0,1276.7 L771.7,1277.0 L774.4,1277.3 L777.0,1277.6 L779.7,1278.0 L782.3,1278.3 L785.0,1278.7 L787.7,1279.1 L790.3,1279.5 L793.0,1280.0 L795.6,1280.5 L798.3,1281.0 L801.0,1281.6 L803.6,1282.2 L806.3,1282.8 L808.9,1283.6 L811.6,1284.4 L814.3,1285.2 L816.9,1286.1 L819.6,1287.1 L822.2,1288.1 L824.9,1289.2 L827.6,1290.3 L830.2,1291.6 L832.9,1292.9 L835.5,1294.2 L838.2,1295.7 L840.9,1297.2 L843.5,1298.8 L846.2,1300.5 L848.8,1302.2 L851.5,1304.0 L854.2,1305.8 L856.8,1307.7 L859.5,1309.7 L862.1,1311.8 L864.8,1313.9 L867.4,1316.0 L870.1,1318.2 L872.8,1320.4 L875.4,1322.7 L878.1,1325.1 L880.7,1327.4 L883.4,1329.8 L886.1,1332.2 L888.7,1334.6 L891.4,1337.1 L894.0,1339.5 L896.7,1342.0 L899.4,1344.4 L902.0,1346.8 L904.7,1349.2 L907.3,1351.6 L910.0,1354.0 L912.7,1356.3 L915.3,1358.6 L918.0,1360.9 L920.6,1363.1 L923.3,1365.2 L926.0,1367.2 L928.6,1369.2 L931.3,1371.1 L933.9,1373.0 L936.6,1374.7 L939.3,1376.3 L941.9,1377.8 L944.6,1379.3 L947.2,1380.6 L949.9,1381.8 L952.6,1382.8 L955.2,1383.7 L957.9,1384.5 L960.5,1385.2 L963.2,1385.7 L965.9,1386.1 L968.5,1386.3 L971.2,1386.3 L973.8,1386.2 L976.5,1385.9 L979.2,1385.5 L981.8,1384.9 L984.5,1384.1 L987.1,1383.2 L989.8,1382.1 L992.4,1380.8 L995.1,1379.4 L997.8,1377.7 L1000.4,1376.0 L1003.1,1374.0 L1005.7,1371.9 L1008.4,1369.6 L1011.1,1367.1 L1013.7,1364.5 L1016.4,1361.7 L1019.0,1358.7 L1021.7,1355.6 L1024.4,1352.4 L1027.0,1349.0 L1029.7,1345.5 L1032.3,1341.8 L1035.0,1338.0 L1037.7,1334.0 L1040.3,1330.0 L1043.0,1325.8 L1045.6,1321.5 L1048.3,1317.2 L1051.0,1312.7 L1053.6,1308.1 L1056.3,1303.5 L1058.9,1298.8 L1061.6,1294.0 L1064.3,1289.1 L1066.9,1284.2 L1069.6,1279.3 L1072.2,1274.3 L1074.9,1269.3 L1077.6,1264.3 L1080.2,1259.3 L1082.9,1254.3 L1085.5,1249.2 L1088.2,1244.2 L1090.9,1239.3 L1093.5,1234.3 L1096.2,1229.4 L1098.8,1224.6 L1101.5,1219.8 L1104.2,1215.0 L1106.8,1210.4 L1109.5,1205.8 L1112.1,1201.3 L1114.8,1196.9 L1117.5,1192.6 L1120.1,1188.5 L1122.8,1184.4 L1125.4,1180.5 L1128.1,1176.6 L1130.7,1173.0 L1133.4,1169.4 L1136.1,1166.0 L1138.7,1162.8 L1141.4,1159.7 L1144.0,1156.8 L1146.7,1154.0 L1149.4,1151.4 L1152.0,1149.0 L1154.7,1146.7 L1157.3,1144.7 L1160.0,1142.8 L1162.7,1141.0 L1165.3,1139.5 L1168.0,1138.1 L1170.6,1136.9 L1173.3,1135.9 L1176.0,1135.1 L1178.6,1134.5 L1181.3,1134.0 L1183.9,1133.7 L1186.6,1133.6 L1189.3,1133.7 L1191.9,1134.0 L1194.6,1134.4 L1197.2,1134.9 L1199.9,1135.7 L1202.6,1136.6 L1205.2,1137.6 L1207.9,1138.8 L1210.5,1140.2 L1213.2,1141.6 L1215.9,1143.3 L1218.5,1145.0 L1221.2,1146.9 L1223.8,1148.9 L1226.5,1151.0 L1229.2,1153.2 L1231.8,1155.5 L1234.5,1157.9 L1237.1,1160.4 L1239.8,1163.0 L1242.5,1165.6 L1245.1,1168.3 L1247.8,1171.1 L1250.4,1173.9 L1253.1,1176.8 L1255.7,1179.7 L1258.4,1182.7 L1261.1,1185.6 L1263.7,1188.6 L1266.4,1191.6 L1269.0,1194.6 L1271.7,1197.7 L1274.4,1200.7 L1277.0,1203.7 L1279.7,1206.6 L1282.3,1209.6 L1285.0,1212.5 L1287.7,1215.4 L1290.3,1218.2 L1293.0,1221.0 L1295.6,1223.8 L1298.3,1226.5 L1301.0,1229.1 L1303.6,1231.7 L1306.3,1234.2 L1308.9,1236.7 L1311.6,1239.0 L1314.3,1241.3 L1316.9,1243.6 L1319.6,1245.7 L1322.2,1247.8 L1324.9,1249.8 L1327.6,1251.7 L1330.2,1253.5 L1332.9,1255.3 L1335.5,1256.9 L1338.2,1258.5 L1340.9,1260.0 L1343.5,1261.4 L1346.2,1262.7 L1348.8,1264.0 L1351.5,1265.2 L1354.2,1266.3 L1356.8,1267.3 L1359.5,1268.2 L1362.1,1269.1 L1364.8,1270.0 L1367.5,1270.7 L1370.1,1271.4 L1372.8,1272.1 L1375.4,1272.7 L1378.1,1273.2 L1380.8,1273.7 L1383.4,1274.2 L1386.1,1274.6 L1388.7,1275.0 L1391.4,1275.4 L1394.0,1275.8 L1396.7,1276.1 L1399.4,1276.5 L1402.0,1276.8 L1404.7,1277.1 L1407.3,1277.4 L1410.0,1277.8 L1412.7,1278.1 L1415.3,1278.5 L1418.0,1278.8 L1420.6,1279.2 L1423.3,1279.7 L1426.0,1280.1 L1428.6,1280.6 L1431.3,1281.2 L1433.9,1281.8 L1436.6,1282.4 L1439.3,1283.1 L1441.9,1283.8 L1444.6,1284.6 L1447.2,1285.5 L1449.9,1286.4 L1452.6,1287.4 L1455.2,1288.5 L1457.9,1289.6 L1460.5,1290.8 L1463.2,1292.0 L1465.9,1293.4 L1468.5,1294.8 L1471.2,1296.2 L1473.8,1297.8 L1476.5,1299.4 L1479.2,1301.1 L1481.8,1302.8 L1484.5,1304.6 L1487.1,1306.5 L1489.8,1308.4 L1492.5,1310.4 L1495.1,1312.5 L1497.8,1314.6 L1500.4,1316.8 L1503.1,1319.0 L1505.8,1321.3 L1508.4,1323.6 L1511.1,1325.9 L1513.7,1328.3 L1516.4,1330.6 L1519.1,1333.1 L1521.7,1335.5 L1524.4,1337.9 L1527.0,1340.4 L1529.7,1342.8 L1532.3,1345.3 L1535.0,1347.7 L1537.7,1350.1 L1540.3,1352.5 L1543.0,1354.8 L1545.6,1357.2 L1548.3,1359.4 L1551.0,1361.6 L1553.6,1363.8 L1556.3,1365.9 L1558.9,1368.0 L1561.6,1369.9 L1564.3,1371.8 L1566.9,1373.6 L1569.6,1375.3 L1572.2,1376.9 L1574.9,1378.4 L1577.6,1379.7 L1580.2,1381.0 L1582.9,1382.1 L1585.5,1383.2 L1588.2,1384.0 L1590.9,1384.8 L1593.5,1385.4 L1596.2,1385.8 L1598.8,1386.1 L1601.5,1386.3 L1604.2,1386.3 L1606.8,1386.1 L1609.5,1385.8 L1612.1,1385.3 L1614.8,1384.6 L1617.5,1383.8 L1620.1,1382.8 L1622.8,1381.7 L1625.4,1380.3 L1628.1,1378.8 L1630.8,1377.1 L1633.4,1375.3 L1636.1,1373.3 L1638.7,1371.1 L1641.4,1368.7 L1644.1,1366.2 L1646.7,1363.5 L1649.4,1360.7 L1652.0,1357.7 L1654.7,1354.5 L1657.3,1351.2 L1660.0,1347.8 L1662.7,1344.2 L1665.3,1340.4 L1668.0,1336.6 L1670.6,1332.6 L1673.3,1328.5 L1676.0,1324.3 L1678.6,1320.0 L1681.3,1315.6 L1683.9,1311.1 L1686.6,1306.5 L1689.3,1301.8 L1691.9,1297.1 L1694.6,1292.3 L1697.2,1287.4 L1699.9,1282.5 L1702.6,1277.5 L1705.2,1272.5 L1707.9,1267.5 L1710.5,1262.5 L1713.2,1257.5 L1715.9,1252.5 L1718.5,1247.5 L1721.2,1242.5 L1723.8,1237.5 L1726.5,1232.6 L1729.2,1227.7 L1731.8,1222.9 L1734.5,1218.1 L1737.1,1213.4 L1739.8,1208.7 L1742.5,1204.2 L1745.1,1199.7 L1747.8,1195.4 L1750.4,1191.1 L1753.1,1187.0 L1755.8,1183.0 L1758.4,1179.1 L1761.1,1175.3 L1763.7,1171.7 L1766.4,1168.2 L1769.1,1164.9 L1771.7,1161.7 L1774.4,1158.7 L1777.0,1155.8 L1779.7,1153.1 L1782.4,1150.5 L1785.0,1148.2 L1787.7,1146.0 L1790.3,1144.0 L1793.0,1142.1 L1795.6,1140.5 L1798.3,1139.0 L1801.0,1137.7 L1803.6,1136.6 L1806.3,1135.6 L1808.9,1134.9 L1811.6,1134.3 L1814.3,1133.9 L1816.9,1133.7 L1819.6,1133.6 L1822.2,1133.8 L1824.9,1134.1 L1827.6,1134.5 L1830.2,1135.2 L1832.9,1136.0 L1835.5,1136.9 L1838.2,1138.0 L1840.9,1139.3 L1843.5,1140.7 L1846.2,1142.2 L1848.8,1143.9 L1851.5,1145.7" fill="none" stroke="#ff0000" stroke-width="8" stroke-linejoin="round"/>
<rect x="226.0" y="935.0" width="1657.6" height="637.6" fill="none" stroke="#000" stroke-width="5.7"/>
<path d="M291.5,932.1V925.1M291.5,1575.4V1582.4M449.5,932.1V925.1M449.5,1575.4V1582.4M607.5,932.1V916.1M607.5,1575.4V1591.4M765.5,932.1V925.1M765.5,1575.4V1582.4M923.5,932.1V925.1M923.5,1575.4V1582.4M1081.5,932.1V925.1M1081.5,1575.4V1582.4M1239.6,932.1V916.1M1239.6,1575.4V1591.4M1397.6,932.1V925.1M1397.6,1575.4V1582.4M1555.6,932.1V925.1M1555.6,1575.4V1582.4M1713.6,932.1V925.1M1713.6,1575.4V1582.4M1871.6,932.1V916.1M1871.6,1575.4V1591.4M223.2,1552.0H207.2M1886.4,1552.0H1902.4M223.2,1422.1H207.2M1886.4,1422.1H1902.4M223.2,1292.2H207.2M1886.4,1292.2H1902.4M223.2,1162.3H207.2M1886.4,1162.3H1902.4M223.2,1032.4H207.2M1886.4,1032.4H1902.4" stroke="#000" stroke-width="2.5" fill="none"/>
<text transform="translate(607.5,1638.7) scale(1,1.06)" font-size="42.4" font-weight="bold" text-anchor="middle">2024</text>
<text transform="translate(1239.6,1638.7) scale(1,1.06)" font-size="42.4" font-weight="bold" text-anchor="middle">2025</text>
<text transform="translate(1871.6,1638.7) scale(1,1.06)" font-size="42.4" font-weight="bold" text-anchor="middle">2026</text>
<text transform="translate(190.3,1568.4) scale(1,1.07)" font-size="42.4" font-weight="bold" text-anchor="end">−8</text>
<text transform="translate(190.3,1438.5) scale(1,1.07)" font-size="42.4" font-weight="bold" text-anchor="end">−4</text>
<text transform="translate(190.3,1308.6) scale(1,1.07)" font-size="42.4" font-weight="bold" text-anchor="end">0</text>
<text transform="translate(190.3,1178.7) scale(1,1.07)" font-size="42.4" font-weight="bold" text-anchor="end">4</text>
<text transform="translate(190.3,1048.8) scale(1,1.07)" font-size="42.4" font-weight="bold" text-anchor="end">8</text>
<text transform="translate(114.0,1253.8) rotate(-90) scale(1,1.04)" font-size="42.4" text-anchor="middle">North (mm)</text>
<text transform="translate(1815.5,973.7) scale(1,1.07)" font-size="35.3" font-weight="bold" text-anchor="end">0.000+/- 0.786 mm/yr</text>
<g fill="#0000ff">
<circle cx="344.4" cy="1778.2" r="6.2"/><circle cx="479.4" cy="1779.5" r="6.2"/><circle cx="481.2" cy="1797.1" r="6.2"/><circle cx="329.1" cy="1863.7" r="6.2"/><circle cx="337.9" cy="1860.3" r="6.2"/><circle cx="503.7" cy="1870.2" r="6.2"/><circle cx="507.1" cy="1876.6" r="6.2"/><circle cx="318.5" cy="1894.0" r="6.2"/><circle cx="334.3" cy="1889.1" r="6.2"/><circle cx="361.2" cy="1891.4" r="6.2"/><circle cx="373.7" cy="1896.1" r="6.2"/><circle cx="290.8" cy="1911.1" r="6.2"/><circle cx="432.5" cy="1910.3" r="6.2"/><circle cx="430.7" cy="1919.9" r="6.2"/><circle cx="468.7" cy="1914.7" r="6.2"/><circle cx="505.3" cy="1912.9" r="6.2"/><circle cx="327.6" cy="1918.1" r="6.2"/><circle cx="332.7" cy="1923.3" r="6.2"/><circle cx="321.9" cy="1933.1" r="6.2"/><circle cx="334.8" cy="1933.6" r="6.2"/><circle cx="341.3" cy="1930.3" r="6.2"/><circle cx="348.3" cy="1935.7" r="6.2"/><circle cx="408.6" cy="1935.5" r="6.2"/><circle cx="477.8" cy="1933.6" r="6.2"/><circle cx="483.8" cy="1931.1" r="6.2"/><circle cx="490.2" cy="1932.3" r="6.2"/><circle cx="494.1" cy="1935.5" r="6.2"/><circle cx="325.0" cy="1948.4" r="6.2"/><circle cx="320.6" cy="1957.7" r="6.2"/><circle cx="342.6" cy="1951.8" r="6.2"/><circle cx="346.5" cy="1958.8" r="6.2"/><circle cx="384.5" cy="1954.4" r="6.2"/><circle cx="427.6" cy="1959.5" r="6.2"/><circle cx="426.8" cy="1969.9" r="6.2"/><circle cx="432.0" cy="1972.5" r="6.2"/><circle cx="450.1" cy="1968.1" r="6.2"/><circle cx="491.5" cy="1962.1" r="6.2"/><circle cx="498.0" cy="1967.3" r="6.2"/><circle cx="508.9" cy="1961.4" r="6.2"/><circle cx="292.8" cy="1969.4" r="6.2"/><circle cx="339.5" cy="1975.1" r="6.2"/><circle cx="387.9" cy="1973.8" r="6.2"/><circle cx="441.0" cy="1980.3" r="6.2"/><circle cx="286.9" cy="1982.1" r="6.2"/><circle cx="299.3" cy="1988.8" r="6.2"/><circle cx="313.6" cy="1986.8" r="6.2"/><circle cx="317.2" cy="1985.5" r="6.2"/><circle cx="314.6" cy="1993.2" r="6.2"/><circle cx="349.8" cy="1986.8" r="6.2"/><circle cx="355.5" cy="1983.6" r="6.2"/><circle cx="363.8" cy="1995.8" r="6.2"/><circle cx="424.2" cy="1982.3" r="6.2"/><circle cx="421.6" cy="1988.8" r="6.2"/><circle cx="484.3" cy="1988.8" r="6.2"/><circle cx="510.5" cy="1988.8" r="6.2"/><circle cx="264.9" cy="2007.0" r="6.2"/><circle cx="273.9" cy="2001.0" r="6.2"/><circle cx="288.2" cy="1999.2" r="6.2"/><circle cx="351.6" cy="2005.4" r="6.2"/><circle cx="386.1" cy="1994.5" r="6.2"/><circle cx="389.7" cy="1991.4" r="6.2"/><circle cx="407.3" cy="1994.0" r="6.2"/><circle cx="417.7" cy="1999.2" r="6.2"/><circle cx="420.8" cy="2005.4" r="6.2"/><circle cx="494.9" cy="1997.1" r="6.2"/><circle cx="311.5" cy="2008.8" r="6.2"/><circle cx="381.4" cy="2010.1" r="6.2"/><circle cx="391.8" cy="2006.2" r="6.2"/><circle cx="398.3" cy="2010.1" r="6.2"/><circle cx="437.1" cy="2010.1" r="6.2"/><circle cx="496.7" cy="2009.5" r="6.2"/><circle cx="486.4" cy="2017.8" r="6.2"/><circle cx="522.6" cy="2015.8" r="6.2"/><circle cx="303.7" cy="2019.1" r="6.2"/><circle cx="308.9" cy="2026.9" r="6.2"/><circle cx="306.8" cy="2032.1" r="6.2"/><circle cx="412.0" cy="2014.0" r="6.2"/><circle cx="393.1" cy="2020.4" r="6.2"/><circle cx="409.9" cy="2023.5" r="6.2"/><circle cx="501.1" cy="2023.0" r="6.2"/><circle cx="500.1" cy="2032.1" r="6.2"/><circle cx="588.7" cy="2033.9" r="6.2"/><circle cx="612.0" cy="2044.3" r="6.2"/><circle cx="590.0" cy="2046.9" r="6.2"/><circle cx="270.0" cy="2038.0" r="6.2"/><circle cx="279.1" cy="2037.3" r="6.2"/><circle cx="356.8" cy="2035.5" r="6.2"/><circle cx="369.8" cy="2029.5" r="6.2"/><circle cx="380.9" cy="2031.3" r="6.2"/><circle cx="416.4" cy="2029.5" r="6.2"/><circle cx="433.8" cy="2032.1" r="6.2"/><circle cx="451.4" cy="2027.7" r="6.2"/><circle cx="454.0" cy="2036.0" r="6.2"/><circle cx="460.5" cy="2041.7" r="6.2"/><circle cx="448.3" cy="2040.6" r="6.2"/><circle cx="399.6" cy="2040.6" r="6.2"/><circle cx="394.4" cy="2050.2" r="6.2"/><circle cx="404.8" cy="2052.8" r="6.2"/><circle cx="476.0" cy="2046.9" r="6.2"/><circle cx="467.5" cy="2052.8" r="6.2"/><circle cx="297.2" cy="2047.6" r="6.2"/><circle cx="266.9" cy="2052.8" r="6.2"/><circle cx="360.2" cy="2052.0" r="6.2"/><circle cx="365.9" cy="2058.0" r="6.2"/><circle cx="378.8" cy="2058.0" r="6.2"/><circle cx="435.3" cy="2058.0" r="6.2"/><circle cx="515.6" cy="2053.6" r="6.2"/><circle cx="521.3" cy="2061.9" r="6.2"/><circle cx="547.2" cy="2059.3" r="6.2"/><circle cx="552.4" cy="2060.6" r="6.2"/><circle cx="609.4" cy="2059.3" r="6.2"/><circle cx="285.6" cy="2060.6" r="6.2"/><circle cx="299.8" cy="2058.0" r="6.2"/><circle cx="275.2" cy="2067.1" r="6.2"/><circle cx="352.9" cy="2068.4" r="6.2"/><circle cx="401.6" cy="2067.6" r="6.2"/><circle cx="457.1" cy="2065.8" r="6.2"/><circle cx="511.0" cy="2065.8" r="6.2"/><circle cx="612.0" cy="2067.1" r="6.2"/><circle cx="257.6" cy="2075.2" r="6.2"/><circle cx="271.3" cy="2072.1" r="6.2"/><circle cx="283.5" cy="2075.7" r="6.2"/><circle cx="303.7" cy="2077.8" r="6.2"/><circle cx="293.4" cy="2081.7" r="6.2"/><circle cx="279.9" cy="2088.7" r="6.2"/><circle cx="283.5" cy="2095.9" r="6.2"/><circle cx="262.8" cy="2097.2" r="6.2"/><circle cx="274.7" cy="2116.1" r="6.2"/><circle cx="259.2" cy="2137.9" r="6.2"/><circle cx="261.0" cy="2144.6" r="6.2"/><circle cx="352.4" cy="2072.1" r="6.2"/><circle cx="376.8" cy="2077.3" r="6.2"/><circle cx="368.0" cy="2083.0" r="6.2"/><circle cx="375.7" cy="2101.6" r="6.2"/><circle cx="371.6" cy="2105.8" r="6.2"/><circle cx="401.6" cy="2071.3" r="6.2"/><circle cx="415.1" cy="2074.7" r="6.2"/><circle cx="418.2" cy="2116.1" r="6.2"/><circle cx="402.7" cy="2142.5" r="6.2"/><circle cx="439.0" cy="2090.2" r="6.2"/><circle cx="456.6" cy="2090.2" r="6.2"/><circle cx="446.2" cy="2100.6" r="6.2"/><circle cx="453.5" cy="2108.9" r="6.2"/><circle cx="443.1" cy="2112.7" r="6.2"/><circle cx="472.1" cy="2092.8" r="6.2"/><circle cx="464.3" cy="2075.2" r="6.2"/><circle cx="470.8" cy="2080.4" r="6.2"/><circle cx="525.2" cy="2073.9" r="6.2"/><circle cx="523.9" cy="2079.1" r="6.2"/><circle cx="513.6" cy="2093.3" r="6.2"/><circle cx="520.0" cy="2090.7" r="6.2"/><circle cx="569.3" cy="2083.5" r="6.2"/><circle cx="548.5" cy="2094.6" r="6.2"/><circle cx="558.9" cy="2100.6" r="6.2"/><circle cx="553.7" cy="2108.3" r="6.2"/><circle cx="574.4" cy="2105.8" r="6.2"/><circle cx="566.7" cy="2108.9" r="6.2"/><circle cx="573.2" cy="2116.6" r="6.2"/><circle cx="538.2" cy="2105.0" r="6.2"/><circle cx="535.6" cy="2111.5" r="6.2"/><circle cx="533.0" cy="2116.6" r="6.2"/><circle cx="531.2" cy="2127.5" r="6.2"/><circle cx="545.2" cy="2130.9" r="6.2"/><circle cx="533.0" cy="2147.7" r="6.2"/><circle cx="539.5" cy="2144.6" r="6.2"/><circle cx="555.0" cy="2151.6" r="6.2"/><circle cx="548.5" cy="2146.4" r="6.2"/><circle cx="527.8" cy="2165.9" r="6.2"/><circle cx="542.1" cy="2164.6" r="6.2"/><circle cx="529.1" cy="2176.2" r="6.2"/><circle cx="587.4" cy="2162.0" r="6.2"/><circle cx="606.3" cy="2173.1" r="6.2"/><circle cx="601.6" cy="2103.2" r="6.2"/><circle cx="614.6" cy="2100.6" r="6.2"/><circle cx="610.7" cy="2071.3" r="6.2"/><circle cx="634.8" cy="2077.3" r="6.2"/><circle cx="606.8" cy="2128.3" r="6.2"/><circle cx="632.7" cy="2128.3" r="6.2"/><circle cx="635.8" cy="2143.8" r="6.2"/><circle cx="631.4" cy="2163.3" r="6.2"/><circle cx="629.6" cy="2170.5" r="6.2"/><circle cx="564.1" cy="2173.1" r="6.2"/><circle cx="570.6" cy="2183.5" r="6.2"/><circle cx="560.2" cy="2188.7" r="6.2"/><circle cx="565.4" cy="2196.9" r="6.2"/><circle cx="603.7" cy="2191.8" r="6.2"/><circle cx="615.9" cy="2191.2" r="6.2"/><circle cx="639.2" cy="2195.6" r="6.2"/><circle cx="557.1" cy="2209.1" r="6.2"/><circle cx="562.3" cy="2226.0" r="6.2"/><circle cx="576.3" cy="2240.5" r="6.2"/><circle cx="640.0" cy="2248.2" r="6.2"/><circle cx="617.2" cy="2257.8" r="6.2"/><circle cx="619.3" cy="2270.8" r="6.2"/><circle cx="581.4" cy="2284.5" r="6.2"/><circle cx="583.0" cy="2292.3" r="6.2"/><circle cx="584.8" cy="2300.6" r="6.2"/><circle cx="624.4" cy="2299.3" r="6.2"/><circle cx="637.4" cy="2288.9" r="6.2"/><circle cx="639.2" cy="2310.4" r="6.2"/><circle cx="628.1" cy="2320.8" r="6.2"/><circle cx="625.5" cy="2333.0" r="6.2"/><circle cx="621.1" cy="2336.8" r="6.2"/><circle cx="579.6" cy="2345.9" r="6.2"/><circle cx="577.8" cy="2361.5" r="6.2"/><circle cx="622.9" cy="2364.0" r="6.2"/><circle cx="1042.0" cy="1872.2" r="6.2"/><circle cx="1043.8" cy="1885.7" r="6.2"/><circle cx="1029.6" cy="1894.3" r="6.2"/><circle cx="1022.3" cy="1918.1" r="6.2"/><circle cx="1014.1" cy="1942.2" r="6.2"/><circle cx="975.7" cy="1960.8" r="6.2"/><circle cx="1047.2" cy="1959.5" r="6.2"/><circle cx="979.1" cy="1979.0" r="6.2"/><circle cx="980.9" cy="1985.5" r="6.2"/><circle cx="977.3" cy="1995.0" r="6.2"/><circle cx="1038.7" cy="1979.5" r="6.2"/><circle cx="960.2" cy="1999.7" r="6.2"/><circle cx="1040.0" cy="1995.0" r="6.2"/><circle cx="1030.9" cy="2002.3" r="6.2"/><circle cx="1045.1" cy="2002.8" r="6.2"/><circle cx="1005.8" cy="2006.2" r="6.2"/><circle cx="993.3" cy="2014.0" r="6.2"/><circle cx="1003.7" cy="2016.5" r="6.2"/><circle cx="1036.1" cy="2021.7" r="6.2"/><circle cx="1012.8" cy="2032.1" r="6.2"/><circle cx="1028.3" cy="2032.1" r="6.2"/><circle cx="1034.8" cy="2034.7" r="6.2"/><circle cx="1007.6" cy="2039.9" r="6.2"/><circle cx="1016.6" cy="2039.9" r="6.2"/><circle cx="1010.2" cy="2052.8" r="6.2"/><circle cx="676.8" cy="2032.9" r="6.2"/><circle cx="756.3" cy="2022.5" r="6.2"/><circle cx="754.5" cy="2056.2" r="6.2"/><circle cx="698.5" cy="2058.8" r="6.2"/><circle cx="678.6" cy="2065.8" r="6.2"/><circle cx="896.2" cy="2056.2" r="6.2"/><circle cx="920.3" cy="2051.0" r="6.2"/><circle cx="932.5" cy="2057.2" r="6.2"/><circle cx="922.1" cy="2061.9" r="6.2"/><circle cx="928.6" cy="2063.2" r="6.2"/><circle cx="946.2" cy="2061.9" r="6.2"/><circle cx="954.5" cy="2053.6" r="6.2"/><circle cx="958.4" cy="2069.1" r="6.2"/><circle cx="674.7" cy="2089.4" r="6.2"/><circle cx="669.0" cy="2095.9" r="6.2"/><circle cx="673.4" cy="2101.1" r="6.2"/><circle cx="697.5" cy="2099.8" r="6.2"/><circle cx="714.8" cy="2095.9" r="6.2"/><circle cx="713.0" cy="2104.2" r="6.2"/><circle cx="727.0" cy="2084.2" r="6.2"/><circle cx="757.6" cy="2086.8" r="6.2"/><circle cx="764.8" cy="2090.2" r="6.2"/><circle cx="764.8" cy="2098.5" r="6.2"/><circle cx="808.1" cy="2083.0" r="6.2"/><circle cx="837.4" cy="2094.6" r="6.2"/><circle cx="901.4" cy="2096.4" r="6.2"/><circle cx="930.6" cy="2097.2" r="6.2"/><circle cx="958.4" cy="2072.6" r="6.2"/><circle cx="970.5" cy="2076.5" r="6.2"/><circle cx="989.4" cy="2083.5" r="6.2"/><circle cx="990.7" cy="2093.3" r="6.2"/><circle cx="1008.9" cy="2086.1" r="6.2"/><circle cx="1033.5" cy="2079.1" r="6.2"/><circle cx="1051.6" cy="2094.6" r="6.2"/><circle cx="1052.9" cy="2102.4" r="6.2"/><circle cx="1026.5" cy="2104.2" r="6.2"/><circle cx="725.2" cy="2112.7" r="6.2"/><circle cx="734.8" cy="2110.2" r="6.2"/><circle cx="679.9" cy="2125.7" r="6.2"/><circle cx="702.7" cy="2127.0" r="6.2"/><circle cx="723.4" cy="2132.2" r="6.2"/><circle cx="761.5" cy="2117.9" r="6.2"/><circle cx="759.7" cy="2126.5" r="6.2"/><circle cx="767.9" cy="2130.1" r="6.2"/><circle cx="790.7" cy="2116.6" r="6.2"/><circle cx="835.8" cy="2108.3" r="6.2"/><circle cx="844.4" cy="2116.6" r="6.2"/><circle cx="817.2" cy="2129.1" r="6.2"/><circle cx="826.2" cy="2129.1" r="6.2"/><circle cx="850.8" cy="2132.7" r="6.2"/><circle cx="905.2" cy="2114.0" r="6.2"/><circle cx="915.6" cy="2117.9" r="6.2"/><circle cx="926.0" cy="2110.9" r="6.2"/><circle cx="916.9" cy="2125.7" r="6.2"/><circle cx="927.3" cy="2123.1" r="6.2"/><circle cx="941.5" cy="2108.9" r="6.2"/><circle cx="946.2" cy="2117.2" r="6.2"/><circle cx="938.9" cy="2125.7" r="6.2"/><circle cx="897.5" cy="2124.4" r="6.2"/><circle cx="896.2" cy="2132.2" r="6.2"/><circle cx="961.7" cy="2108.3" r="6.2"/><circle cx="972.6" cy="2108.9" r="6.2"/><circle cx="974.7" cy="2126.5" r="6.2"/><circle cx="986.1" cy="2128.3" r="6.2"/><circle cx="984.3" cy="2133.5" r="6.2"/><circle cx="1024.4" cy="2121.3" r="6.2"/><circle cx="1048.3" cy="2112.0" r="6.2"/><circle cx="709.7" cy="2146.4" r="6.2"/><circle cx="728.6" cy="2151.6" r="6.2"/><circle cx="752.4" cy="2140.5" r="6.2"/><circle cx="773.1" cy="2139.9" r="6.2"/><circle cx="767.9" cy="2150.8" r="6.2"/><circle cx="782.2" cy="2158.1" r="6.2"/><circle cx="789.2" cy="2150.8" r="6.2"/><circle cx="792.6" cy="2164.6" r="6.2"/><circle cx="804.7" cy="2159.4" r="6.2"/><circle cx="809.9" cy="2156.8" r="6.2"/><circle cx="821.1" cy="2154.2" r="6.2"/><circle cx="822.3" cy="2164.6" r="6.2"/><circle cx="834.0" cy="2167.9" r="6.2"/><circle cx="841.8" cy="2140.5" r="6.2"/><circle cx="848.3" cy="2143.8" r="6.2"/><circle cx="704.5" cy="2162.0" r="6.2"/><circle cx="751.1" cy="2161.2" r="6.2"/><circle cx="769.2" cy="2167.9" r="6.2"/><circle cx="775.7" cy="2170.5" r="6.2"/><circle cx="742.0" cy="2178.8" r="6.2"/><circle cx="749.8" cy="2181.4" r="6.2"/><circle cx="865.1" cy="2158.1" r="6.2"/><circle cx="869.5" cy="2150.8" r="6.2"/><circle cx="877.3" cy="2154.2" r="6.2"/><circle cx="878.8" cy="2165.9" r="6.2"/><circle cx="891.0" cy="2164.6" r="6.2"/><circle cx="891.0" cy="2138.7" r="6.2"/><circle cx="900.1" cy="2140.5" r="6.2"/><circle cx="909.1" cy="2154.2" r="6.2"/><circle cx="911.7" cy="2158.1" r="6.2"/><circle cx="906.5" cy="2167.9" r="6.2"/><circle cx="937.6" cy="2151.6" r="6.2"/><circle cx="953.2" cy="2147.2" r="6.2"/><circle cx="963.5" cy="2147.7" r="6.2"/><circle cx="967.9" cy="2145.6" r="6.2"/><circle cx="982.5" cy="2155.5" r="6.2"/><circle cx="998.5" cy="2143.8" r="6.2"/><circle cx="999.8" cy="2165.3" r="6.2"/><circle cx="1001.6" cy="2179.3" r="6.2"/><circle cx="1020.5" cy="2159.4" r="6.2"/><circle cx="671.6" cy="2184.0" r="6.2"/><circle cx="644.9" cy="2195.6" r="6.2"/><circle cx="665.6" cy="2195.6" r="6.2"/><circle cx="700.6" cy="2193.1" r="6.2"/><circle cx="716.1" cy="2187.9" r="6.2"/><circle cx="771.8" cy="2185.3" r="6.2"/><circle cx="705.8" cy="2206.0" r="6.2"/><circle cx="718.2" cy="2207.3" r="6.2"/><circle cx="787.4" cy="2198.2" r="6.2"/><circle cx="793.8" cy="2203.4" r="6.2"/><circle cx="804.2" cy="2198.2" r="6.2"/><circle cx="814.1" cy="2202.1" r="6.2"/><circle cx="812.0" cy="2217.2" r="6.2"/><circle cx="847.7" cy="2192.3" r="6.2"/><circle cx="902.7" cy="2184.0" r="6.2"/><circle cx="913.0" cy="2181.9" r="6.2"/><circle cx="949.3" cy="2194.9" r="6.2"/><circle cx="968.7" cy="2213.0" r="6.2"/><circle cx="996.4" cy="2214.6" r="6.2"/><circle cx="1019.2" cy="2199.5" r="6.2"/><circle cx="1054.2" cy="2186.6" r="6.2"/><circle cx="1055.0" cy="2213.8" r="6.2"/><circle cx="845.7" cy="2212.0" r="6.2"/><circle cx="857.3" cy="2216.4" r="6.2"/><circle cx="862.5" cy="2214.6" r="6.2"/><circle cx="745.9" cy="2217.7" r="6.2"/><circle cx="744.1" cy="2222.8" r="6.2"/><circle cx="732.2" cy="2224.1" r="6.2"/><circle cx="710.9" cy="2228.0" r="6.2"/><circle cx="734.3" cy="2231.9" r="6.2"/><circle cx="740.7" cy="2238.4" r="6.2"/><circle cx="745.9" cy="2239.7" r="6.2"/><circle cx="738.9" cy="2248.8" r="6.2"/><circle cx="775.7" cy="2225.4" r="6.2"/><circle cx="784.8" cy="2233.2" r="6.2"/><circle cx="785.6" cy="2242.3" r="6.2"/><circle cx="802.9" cy="2235.8" r="6.2"/><circle cx="839.2" cy="2228.5" r="6.2"/><circle cx="830.1" cy="2235.8" r="6.2"/><circle cx="827.0" cy="2246.2" r="6.2"/><circle cx="852.9" cy="2235.8" r="6.2"/><circle cx="863.3" cy="2229.3" r="6.2"/><circle cx="887.1" cy="2233.2" r="6.2"/><circle cx="854.7" cy="2251.3" r="6.2"/><circle cx="685.0" cy="2241.5" r="6.2"/><circle cx="686.3" cy="2256.0" r="6.2"/><circle cx="643.6" cy="2248.2" r="6.2"/><circle cx="657.1" cy="2253.4" r="6.2"/><circle cx="668.2" cy="2253.4" r="6.2"/><circle cx="719.2" cy="2244.9" r="6.2"/><circle cx="707.8" cy="2257.0" r="6.2"/><circle cx="681.2" cy="2270.8" r="6.2"/><circle cx="694.9" cy="2270.8" r="6.2"/><circle cx="690.7" cy="2264.8" r="6.2"/><circle cx="778.3" cy="2261.2" r="6.2"/><circle cx="796.4" cy="2261.2" r="6.2"/><circle cx="801.6" cy="2257.8" r="6.2"/><circle cx="828.8" cy="2263.8" r="6.2"/><circle cx="889.2" cy="2264.8" r="6.2"/><circle cx="1054.2" cy="2255.2" r="6.2"/><circle cx="797.7" cy="2277.3" r="6.2"/><circle cx="659.1" cy="2279.3" r="6.2"/><circle cx="642.3" cy="2287.6" r="6.2"/><circle cx="654.0" cy="2299.3" r="6.2"/><circle cx="663.0" cy="2296.7" r="6.2"/><circle cx="657.1" cy="2307.0" r="6.2"/><circle cx="665.6" cy="2306.3" r="6.2"/><circle cx="642.3" cy="2310.9" r="6.2"/><circle cx="645.7" cy="2320.0" r="6.2"/><circle cx="683.7" cy="2302.6" r="6.2"/><circle cx="694.1" cy="2316.1" r="6.2"/><circle cx="730.4" cy="2301.9" r="6.2"/><circle cx="721.3" cy="2317.4" r="6.2"/><circle cx="780.4" cy="2295.9" r="6.2"/><circle cx="859.9" cy="2290.2" r="6.2"/><circle cx="832.2" cy="2325.2" r="6.2"/><circle cx="650.1" cy="2331.7" r="6.2"/><circle cx="691.5" cy="2355.0" r="6.2"/><circle cx="652.7" cy="2364.0" r="6.2"/><circle cx="1072.8" cy="1763.2" r="6.2"/><circle cx="1095.4" cy="1848.9" r="6.2"/><circle cx="1091.8" cy="1953.1" r="6.2"/><circle cx="1107.3" cy="1958.3" r="6.2"/><circle cx="1060.7" cy="1964.0" r="6.2"/><circle cx="1071.0" cy="1978.2" r="6.2"/><circle cx="1096.9" cy="1976.9" r="6.2"/><circle cx="1067.7" cy="2007.5" r="6.2"/><circle cx="1074.7" cy="2009.5" r="6.2"/><circle cx="1088.4" cy="2005.4" r="6.2"/><circle cx="1116.1" cy="2015.8" r="6.2"/><circle cx="1086.6" cy="2023.8" r="6.2"/><circle cx="1128.0" cy="2026.1" r="6.2"/><circle cx="1164.3" cy="2025.1" r="6.2"/><circle cx="1100.6" cy="2035.2" r="6.2"/><circle cx="1069.5" cy="2037.3" r="6.2"/><circle cx="1078.0" cy="2042.5" r="6.2"/><circle cx="1105.7" cy="2052.0" r="6.2"/><circle cx="1126.5" cy="2054.6" r="6.2"/><circle cx="1062.5" cy="2077.3" r="6.2"/><circle cx="1084.0" cy="2077.3" r="6.2"/><circle cx="1090.2" cy="2080.4" r="6.2"/><circle cx="1064.3" cy="2089.4" r="6.2"/><circle cx="1081.4" cy="2090.2" r="6.2"/><circle cx="1079.3" cy="2099.0" r="6.2"/><circle cx="1057.3" cy="2100.6" r="6.2"/><circle cx="1110.4" cy="2085.5" r="6.2"/><circle cx="1129.8" cy="2103.2" r="6.2"/><circle cx="1162.7" cy="2079.8" r="6.2"/><circle cx="1102.1" cy="2122.3" r="6.2"/><circle cx="1136.8" cy="2121.8" r="6.2"/><circle cx="1142.0" cy="2141.2" r="6.2"/><circle cx="1133.2" cy="2152.4" r="6.2"/><circle cx="1117.7" cy="2154.2" r="6.2"/><circle cx="1109.1" cy="2157.6" r="6.2"/><circle cx="1098.7" cy="2162.7" r="6.2"/><circle cx="1114.3" cy="2167.9" r="6.2"/><circle cx="1131.1" cy="2169.0" r="6.2"/><circle cx="1143.6" cy="2169.0" r="6.2"/><circle cx="1155.7" cy="2175.7" r="6.2"/><circle cx="1076.2" cy="2154.2" r="6.2"/><circle cx="1065.8" cy="2159.4" r="6.2"/><circle cx="1058.1" cy="2186.6" r="6.2"/><circle cx="1122.8" cy="2190.5" r="6.2"/><circle cx="1138.4" cy="2197.5" r="6.2"/><circle cx="1140.2" cy="2203.4" r="6.2"/><circle cx="1147.2" cy="2210.4" r="6.2"/><circle cx="1160.9" cy="2205.2" r="6.2"/><circle cx="1159.1" cy="2211.2" r="6.2"/><circle cx="1121.3" cy="2210.4" r="6.2"/><circle cx="1157.6" cy="2223.4" r="6.2"/><circle cx="1059.9" cy="2213.8" r="6.2"/><circle cx="1103.9" cy="2228.5" r="6.2"/><circle cx="1124.7" cy="2238.4" r="6.2"/><circle cx="1058.6" cy="2255.2" r="6.2"/><circle cx="1112.5" cy="2257.0" r="6.2"/><circle cx="1119.5" cy="2270.8" r="6.2"/><circle cx="1145.4" cy="2275.2" r="6.2"/><circle cx="1135.0" cy="2289.7" r="6.2"/><circle cx="1148.7" cy="2294.9" r="6.2"/><circle cx="1152.4" cy="2376.2" r="6.2"/><circle cx="1453.7" cy="2129.6" r="6.2"/><circle cx="1467.9" cy="2130.1" r="6.2"/><circle cx="1464.8" cy="2148.2" r="6.2"/><circle cx="1427.8" cy="2148.2" r="6.2"/><circle cx="1420.0" cy="2156.8" r="6.2"/><circle cx="1431.1" cy="2160.2" r="6.2"/><circle cx="1446.7" cy="2162.0" r="6.2"/><circle cx="1416.1" cy="2167.2" r="6.2"/><circle cx="1400.6" cy="2173.6" r="6.2"/><circle cx="1403.2" cy="2178.8" r="6.2"/><circle cx="1421.8" cy="2176.2" r="6.2"/><circle cx="1439.4" cy="2181.4" r="6.2"/><circle cx="1455.0" cy="2180.1" r="6.2"/><circle cx="1464.0" cy="2189.7" r="6.2"/><circle cx="1425.2" cy="2190.5" r="6.2"/><circle cx="1429.1" cy="2199.0" r="6.2"/><circle cx="1448.5" cy="2199.5" r="6.2"/><circle cx="1451.1" cy="2206.0" r="6.2"/><circle cx="1460.1" cy="2200.8" r="6.2"/><circle cx="1467.4" cy="2203.4" r="6.2"/><circle cx="1405.2" cy="2203.4" r="6.2"/><circle cx="1409.6" cy="2213.8" r="6.2"/><circle cx="1416.1" cy="2215.1" r="6.2"/><circle cx="1441.5" cy="2213.8" r="6.2"/><circle cx="1398.0" cy="2228.5" r="6.2"/><circle cx="1423.9" cy="2231.1" r="6.2"/><circle cx="1435.5" cy="2231.1" r="6.2"/><circle cx="1432.9" cy="2238.9" r="6.2"/><circle cx="1458.1" cy="2240.5" r="6.2"/><circle cx="1460.1" cy="2248.2" r="6.2"/><circle cx="1413.5" cy="2244.1" r="6.2"/><circle cx="1407.8" cy="2260.4" r="6.2"/><circle cx="1443.3" cy="2256.5" r="6.2"/><circle cx="1412.2" cy="2274.1" r="6.2"/><circle cx="1457.0" cy="2272.6" r="6.2"/><circle cx="1664.8" cy="1852.0" r="6.2"/><circle cx="1747.7" cy="1895.6" r="6.2"/><circle cx="1666.6" cy="1932.3" r="6.2"/><circle cx="1678.8" cy="1931.8" r="6.2"/><circle cx="1718.4" cy="1930.5" r="6.2"/><circle cx="1612.7" cy="1939.3" r="6.2"/><circle cx="1575.9" cy="1955.7" r="6.2"/><circle cx="1587.1" cy="1955.1" r="6.2"/><circle cx="1653.6" cy="1947.4" r="6.2"/><circle cx="1656.2" cy="1951.8" r="6.2"/><circle cx="1661.4" cy="1966.0" r="6.2"/><circle cx="1677.0" cy="1966.0" r="6.2"/><circle cx="1673.1" cy="1976.9" r="6.2"/><circle cx="1749.5" cy="1967.3" r="6.2"/><circle cx="1659.6" cy="1986.8" r="6.2"/><circle cx="1662.7" cy="1994.0" r="6.2"/><circle cx="1657.5" cy="2000.2" r="6.2"/><circle cx="1553.9" cy="1999.2" r="6.2"/><circle cx="1588.4" cy="2000.2" r="6.2"/><circle cx="1640.7" cy="2003.6" r="6.2"/><circle cx="1716.6" cy="2010.1" r="6.2"/><circle cx="1806.5" cy="1997.6" r="6.2"/><circle cx="1787.6" cy="2017.1" r="6.2"/><circle cx="1545.6" cy="2013.4" r="6.2"/><circle cx="1564.8" cy="2019.1" r="6.2"/><circle cx="1566.3" cy="2025.1" r="6.2"/><circle cx="1585.0" cy="2024.3" r="6.2"/><circle cx="1591.5" cy="2022.5" r="6.2"/><circle cx="1590.2" cy="2033.4" r="6.2"/><circle cx="1574.6" cy="2036.5" r="6.2"/><circle cx="1538.9" cy="2038.0" r="6.2"/><circle cx="1560.4" cy="2043.2" r="6.2"/><circle cx="1683.4" cy="2017.8" r="6.2"/><circle cx="1685.5" cy="2025.1" r="6.2"/><circle cx="1634.7" cy="2027.7" r="6.2"/><circle cx="1649.2" cy="2024.3" r="6.2"/><circle cx="1650.3" cy="2033.9" r="6.2"/><circle cx="1746.1" cy="2033.4" r="6.2"/><circle cx="1752.1" cy="2026.9" r="6.2"/><circle cx="1760.6" cy="2027.7" r="6.2"/><circle cx="1823.8" cy="2037.3" r="6.2"/><circle cx="1789.1" cy="2043.0" r="6.2"/><circle cx="1808.3" cy="2049.4" r="6.2"/><circle cx="1754.7" cy="2051.0" r="6.2"/><circle cx="1761.2" cy="2061.4" r="6.2"/><circle cx="1785.8" cy="2061.9" r="6.2"/><circle cx="1502.1" cy="2056.2" r="6.2"/><circle cx="1540.4" cy="2060.6" r="6.2"/><circle cx="1551.8" cy="2058.8" r="6.2"/><circle cx="1556.5" cy="2067.1" r="6.2"/><circle cx="1604.4" cy="2046.3" r="6.2"/><circle cx="1597.4" cy="2061.9" r="6.2"/><circle cx="1633.7" cy="2047.6" r="6.2"/><circle cx="1642.0" cy="2051.0" r="6.2"/><circle cx="1644.1" cy="2055.4" r="6.2"/><circle cx="1653.6" cy="2045.8" r="6.2"/><circle cx="1668.4" cy="2048.9" r="6.2"/><circle cx="1675.7" cy="2042.5" r="6.2"/><circle cx="1688.1" cy="2045.8" r="6.2"/><circle cx="1699.0" cy="2051.5" r="6.2"/><circle cx="1696.4" cy="2061.9" r="6.2"/><circle cx="1689.9" cy="2064.5" r="6.2"/><circle cx="1626.4" cy="2066.5" r="6.2"/><circle cx="1638.1" cy="2066.5" r="6.2"/><circle cx="1648.5" cy="2067.6" r="6.2"/><circle cx="1610.9" cy="2069.1" r="6.2"/><circle cx="1670.0" cy="2067.6" r="6.2"/><circle cx="1803.9" cy="2069.1" r="6.2"/><circle cx="1541.5" cy="2073.9" r="6.2"/><circle cx="1570.7" cy="2075.2" r="6.2"/><circle cx="1565.6" cy="2079.1" r="6.2"/><circle cx="1550.0" cy="2080.9" r="6.2"/><circle cx="1543.5" cy="2089.4" r="6.2"/><circle cx="1594.1" cy="2071.3" r="6.2"/><circle cx="1610.9" cy="2073.1" r="6.2"/><circle cx="1647.2" cy="2071.3" r="6.2"/><circle cx="1670.5" cy="2071.3" r="6.2"/><circle cx="1805.2" cy="2072.6" r="6.2"/><circle cx="1486.5" cy="2091.2" r="6.2"/><circle cx="1498.2" cy="2095.4" r="6.2"/><circle cx="1504.2" cy="2093.3" r="6.2"/><circle cx="1513.7" cy="2102.4" r="6.2"/><circle cx="1525.4" cy="2095.4" r="6.2"/><circle cx="1530.6" cy="2098.0" r="6.2"/><circle cx="1574.6" cy="2092.0" r="6.2"/><circle cx="1581.9" cy="2090.7" r="6.2"/><circle cx="1582.9" cy="2099.0" r="6.2"/><circle cx="1557.8" cy="2101.6" r="6.2"/><circle cx="1600.5" cy="2080.4" r="6.2"/><circle cx="1605.7" cy="2087.6" r="6.2"/><circle cx="1595.4" cy="2090.7" r="6.2"/><circle cx="1620.0" cy="2080.4" r="6.2"/><circle cx="1629.0" cy="2077.8" r="6.2"/><circle cx="1638.9" cy="2079.1" r="6.2"/><circle cx="1626.4" cy="2085.5" r="6.2"/><circle cx="1616.1" cy="2092.0" r="6.2"/><circle cx="1629.0" cy="2095.4" r="6.2"/><circle cx="1632.9" cy="2092.0" r="6.2"/><circle cx="1598.5" cy="2105.0" r="6.2"/><circle cx="1608.8" cy="2104.2" r="6.2"/><circle cx="1671.0" cy="2086.1" r="6.2"/><circle cx="1682.1" cy="2081.7" r="6.2"/><circle cx="1692.5" cy="2081.7" r="6.2"/><circle cx="1701.1" cy="2077.8" r="6.2"/><circle cx="1707.3" cy="2083.0" r="6.2"/><circle cx="1704.2" cy="2090.2" r="6.2"/><circle cx="1711.4" cy="2091.2" r="6.2"/><circle cx="1739.1" cy="2080.9" r="6.2"/><circle cx="1758.0" cy="2079.8" r="6.2"/><circle cx="1734.0" cy="2093.8" r="6.2"/><circle cx="1744.3" cy="2092.0" r="6.2"/><circle cx="1813.5" cy="2086.1" r="6.2"/><circle cx="1827.2" cy="2095.4" r="6.2"/><circle cx="1796.1" cy="2095.4" r="6.2"/><circle cx="1777.2" cy="2098.0" r="6.2"/><circle cx="1775.4" cy="2105.0" r="6.2"/><circle cx="1783.2" cy="2107.6" r="6.2"/><circle cx="1792.2" cy="2111.5" r="6.2"/><circle cx="1756.5" cy="2106.8" r="6.2"/><circle cx="1837.6" cy="2112.0" r="6.2"/><circle cx="1680.3" cy="2106.8" r="6.2"/><circle cx="1690.7" cy="2100.6" r="6.2"/><circle cx="1483.4" cy="2123.1" r="6.2"/><circle cx="1491.2" cy="2117.9" r="6.2"/><circle cx="1498.2" cy="2114.6" r="6.2"/><circle cx="1506.0" cy="2111.5" r="6.2"/><circle cx="1509.3" cy="2120.5" r="6.2"/><circle cx="1493.0" cy="2132.2" r="6.2"/><circle cx="1499.5" cy="2131.7" r="6.2"/><circle cx="1472.3" cy="2129.6" r="6.2"/><circle cx="1473.6" cy="2136.8" r="6.2"/><circle cx="1521.5" cy="2130.9" r="6.2"/><circle cx="1536.3" cy="2123.9" r="6.2"/><circle cx="1559.1" cy="2123.9" r="6.2"/><circle cx="1579.8" cy="2125.7" r="6.2"/><circle cx="1645.9" cy="2126.5" r="6.2"/><circle cx="1708.8" cy="2116.1" r="6.2"/><circle cx="1715.8" cy="2117.2" r="6.2"/><circle cx="1726.2" cy="2119.7" r="6.2"/><circle cx="1707.3" cy="2125.7" r="6.2"/><circle cx="1742.5" cy="2117.9" r="6.2"/><circle cx="1727.0" cy="2133.5" r="6.2"/><circle cx="1739.1" cy="2145.6" r="6.2"/><circle cx="1732.1" cy="2155.5" r="6.2"/><circle cx="1800.0" cy="2126.5" r="6.2"/><circle cx="1815.0" cy="2129.1" r="6.2"/><circle cx="1830.6" cy="2137.9" r="6.2"/><circle cx="1778.8" cy="2142.5" r="6.2"/><circle cx="1784.5" cy="2139.4" r="6.2"/><circle cx="1797.9" cy="2147.2" r="6.2"/><circle cx="1534.5" cy="2139.9" r="6.2"/><circle cx="1533.2" cy="2150.8" r="6.2"/><circle cx="1517.1" cy="2150.8" r="6.2"/><circle cx="1518.9" cy="2157.6" r="6.2"/><circle cx="1514.5" cy="2162.0" r="6.2"/><circle cx="1522.8" cy="2162.0" r="6.2"/><circle cx="1623.3" cy="2138.7" r="6.2"/><circle cx="1614.8" cy="2151.6" r="6.2"/><circle cx="1621.8" cy="2169.7" r="6.2"/><circle cx="1487.8" cy="2158.6" r="6.2"/><circle cx="1472.3" cy="2158.1" r="6.2"/><circle cx="1763.7" cy="2155.5" r="6.2"/><circle cx="1765.0" cy="2162.0" r="6.2"/><circle cx="1794.3" cy="2162.0" r="6.2"/><circle cx="1827.2" cy="2153.4" r="6.2"/><circle cx="1832.4" cy="2156.8" r="6.2"/><circle cx="1713.2" cy="2165.3" r="6.2"/><circle cx="1723.6" cy="2173.1" r="6.2"/><circle cx="1735.8" cy="2170.5" r="6.2"/><circle cx="1737.3" cy="2181.4" r="6.2"/><circle cx="1768.4" cy="2174.9" r="6.2"/><circle cx="1772.0" cy="2188.7" r="6.2"/><circle cx="1728.8" cy="2190.5" r="6.2"/><circle cx="1809.9" cy="2169.0" r="6.2"/><circle cx="1818.2" cy="2171.0" r="6.2"/><circle cx="1823.3" cy="2166.4" r="6.2"/><circle cx="1812.5" cy="2178.3" r="6.2"/><circle cx="1845.4" cy="2182.7" r="6.2"/><circle cx="1851.8" cy="2178.3" r="6.2"/><circle cx="1524.9" cy="2183.2" r="6.2"/><circle cx="1480.1" cy="2196.4" r="6.2"/><circle cx="1486.0" cy="2197.5" r="6.2"/><circle cx="1531.1" cy="2201.6" r="6.2"/><circle cx="1765.8" cy="2208.6" r="6.2"/><circle cx="1771.5" cy="2209.9" r="6.2"/><circle cx="1842.8" cy="2202.6" r="6.2"/><circle cx="1846.1" cy="2213.8" r="6.2"/><circle cx="1474.9" cy="2221.6" r="6.2"/><circle cx="1730.6" cy="2221.0" r="6.2"/><circle cx="1780.6" cy="2221.6" r="6.2"/><circle cx="1803.1" cy="2230.6" r="6.2"/><circle cx="1834.2" cy="2229.3" r="6.2"/><circle cx="1840.9" cy="2242.3" r="6.2"/><circle cx="1476.7" cy="2242.3" r="6.2"/><circle cx="1528.0" cy="2246.2" r="6.2"/><circle cx="1835.8" cy="2260.4" r="6.2"/><circle cx="1773.6" cy="2277.3" r="6.2"/>
</g>
<path d="M258.4,2116.0 L261.1,2113.5 L263.7,2111.0 L266.4,2108.5 L269.0,2106.0 L271.7,2103.5 L274.4,2100.9 L277.0,2098.4 L279.7,2095.9 L282.3,2093.4 L285.0,2090.9 L287.7,2088.4 L290.3,2085.9 L293.0,2083.4 L295.6,2081.0 L298.3,2078.5 L301.0,2076.1 L303.6,2073.8 L306.3,2071.4 L308.9,2069.1 L311.6,2066.9 L314.3,2064.6 L316.9,2062.5 L319.6,2060.3 L322.2,2058.3 L324.9,2056.2 L327.5,2054.3 L330.2,2052.4 L332.9,2050.5 L335.5,2048.7 L338.2,2047.0 L340.8,2045.4 L343.5,2043.8 L346.2,2042.3 L348.8,2040.9 L351.5,2039.5 L354.1,2038.3 L356.8,2037.1 L359.5,2036.0 L362.1,2035.0 L364.8,2034.0 L367.4,2033.2 L370.1,2032.4 L372.8,2031.8 L375.4,2031.2 L378.1,2030.7 L380.7,2030.3 L383.4,2030.1 L386.1,2029.9 L388.7,2029.7 L391.4,2029.7 L394.0,2029.8 L396.7,2030.0 L399.4,2030.3 L402.0,2030.6 L404.7,2031.1 L407.3,2031.6 L410.0,2032.2 L412.7,2033.0 L415.3,2033.8 L418.0,2034.7 L420.6,2035.7 L423.3,2036.7 L426.0,2037.9 L428.6,2039.1 L431.3,2040.4 L433.9,2041.8 L436.6,2043.3 L439.3,2044.8 L441.9,2046.4 L444.6,2048.1 L447.2,2049.8 L449.9,2051.6 L452.6,2053.5 L455.2,2055.4 L457.9,2057.4 L460.5,2059.4 L463.2,2061.5 L465.8,2063.6 L468.5,2065.8 L471.2,2068.0 L473.8,2070.2 L476.5,2072.5 L479.1,2074.8 L481.8,2077.2 L484.5,2079.5 L487.1,2081.9 L489.8,2084.3 L492.4,2086.7 L495.1,2089.2 L497.8,2091.6 L500.4,2094.1 L503.1,2096.5 L505.7,2099.0 L508.4,2101.5 L511.1,2103.9 L513.7,2106.4 L516.4,2108.8 L519.0,2111.2 L521.7,2113.7 L524.4,2116.1 L527.0,2118.4 L529.7,2120.8 L532.3,2123.1 L535.0,2125.5 L537.7,2127.7 L540.3,2130.0 L543.0,2132.2 L545.6,2134.4 L548.3,2136.6 L551.0,2138.7 L553.6,2140.8 L556.3,2142.8 L558.9,2144.8 L561.6,2146.8 L564.3,2148.7 L566.9,2150.6 L569.6,2152.5 L572.2,2154.3 L574.9,2156.0 L577.6,2157.7 L580.2,2159.4 L582.9,2161.0 L585.5,2162.6 L588.2,2164.1 L590.8,2165.6 L593.5,2167.0 L596.2,2168.4 L598.8,2169.8 L601.5,2171.1 L604.1,2172.3 L606.8,2173.5 L609.5,2174.7 L612.1,2175.8 L614.8,2176.9 L617.4,2177.9 L620.1,2178.9 L622.8,2179.9 L625.4,2180.8 L628.1,2181.7 L630.7,2182.5 L633.4,2183.3 L636.1,2184.1 L638.7,2184.8 L641.4,2185.5 L644.0,2186.2 L646.7,2186.8 L649.4,2187.4 L652.0,2188.0 L654.7,2188.5 L657.3,2189.0 L660.0,2189.5 L662.7,2190.0 L665.3,2190.4 L668.0,2190.8 L670.6,2191.1 L673.3,2191.5 L676.0,2191.8 L678.6,2192.1 L681.3,2192.4 L683.9,2192.6 L686.6,2192.9 L689.3,2193.1 L691.9,2193.3 L694.6,2193.4 L697.2,2193.6 L699.9,2193.7 L702.6,2193.8 L705.2,2193.9 L707.9,2193.9 L710.5,2194.0 L713.2,2194.0 L715.9,2194.0 L718.5,2194.0 L721.2,2193.9 L723.8,2193.8 L726.5,2193.8 L729.1,2193.6 L731.8,2193.5 L734.5,2193.3 L737.1,2193.1 L739.8,2192.9 L742.4,2192.7 L745.1,2192.4 L747.8,2192.1 L750.4,2191.8 L753.1,2191.4 L755.7,2191.0 L758.4,2190.6 L761.1,2190.2 L763.7,2189.7 L766.4,2189.1 L769.0,2188.6 L771.7,2188.0 L774.4,2187.3 L777.0,2186.7 L779.7,2186.0 L782.3,2185.2 L785.0,2184.4 L787.7,2183.6 L790.3,2182.7 L793.0,2181.7 L795.6,2180.8 L798.3,2179.8 L801.0,2178.7 L803.6,2177.6 L806.3,2176.4 L808.9,2175.2 L811.6,2174.0 L814.3,2172.7 L816.9,2171.3 L819.6,2169.9 L822.2,2168.4 L824.9,2166.9 L827.6,2165.4 L830.2,2163.8 L832.9,2162.1 L835.5,2160.4 L838.2,2158.7 L840.9,2156.9 L843.5,2155.0 L846.2,2153.2 L848.8,2151.2 L851.5,2149.2 L854.2,2147.2 L856.8,2145.1 L859.5,2143.0 L862.1,2140.9 L864.8,2138.7 L867.4,2136.5 L870.1,2134.2 L872.8,2131.9 L875.4,2129.6 L878.1,2127.2 L880.7,2124.9 L883.4,2122.5 L886.1,2120.0 L888.7,2117.6 L891.4,2115.1 L894.0,2112.6 L896.7,2110.1 L899.4,2107.6 L902.0,2105.1 L904.7,2102.6 L907.3,2100.0 L910.0,2097.5 L912.7,2095.0 L915.3,2092.5 L918.0,2090.0 L920.6,2087.5 L923.3,2085.0 L926.0,2082.5 L928.6,2080.1 L931.3,2077.7 L933.9,2075.3 L936.6,2072.9 L939.3,2070.6 L941.9,2068.3 L944.6,2066.1 L947.2,2063.9 L949.9,2061.7 L952.6,2059.6 L955.2,2057.5 L957.9,2055.5 L960.5,2053.6 L963.2,2051.7 L965.9,2049.9 L968.5,2048.1 L971.2,2046.4 L973.8,2044.8 L976.5,2043.3 L979.2,2041.8 L981.8,2040.4 L984.5,2039.1 L987.1,2037.8 L989.8,2036.7 L992.4,2035.6 L995.1,2034.6 L997.8,2033.7 L1000.4,2032.9 L1003.1,2032.2 L1005.7,2031.6 L1008.4,2031.0 L1011.1,2030.6 L1013.7,2030.2 L1016.4,2030.0 L1019.0,2029.8 L1021.7,2029.7 L1024.4,2029.8 L1027.0,2029.9 L1029.7,2030.1 L1032.3,2030.4 L1035.0,2030.8 L1037.7,2031.3 L1040.3,2031.8 L1043.0,2032.5 L1045.6,2033.2 L1048.3,2034.1 L1051.0,2035.0 L1053.6,2036.0 L1056.3,2037.1 L1058.9,2038.3 L1061.6,2039.6 L1064.3,2040.9 L1066.9,2042.3 L1069.6,2043.8 L1072.2,2045.4 L1074.9,2047.0 L1077.6,2048.7 L1080.2,2050.5 L1082.9,2052.3 L1085.5,2054.2 L1088.2,2056.1 L1090.9,2058.1 L1093.5,2060.2 L1096.2,2062.2 L1098.8,2064.4 L1101.5,2066.6 L1104.2,2068.8 L1106.8,2071.0 L1109.5,2073.3 L1112.1,2075.7 L1114.8,2078.0 L1117.5,2080.4 L1120.1,2082.8 L1122.8,2085.2 L1125.4,2087.6 L1128.1,2090.1 L1130.7,2092.5 L1133.4,2095.0 L1136.1,2097.4 L1138.7,2099.9 L1141.4,2102.3 L1144.0,2104.8 L1146.7,2107.2 L1149.4,2109.7 L1152.0,2112.1 L1154.7,2114.5 L1157.3,2116.9 L1160.0,2119.3 L1162.7,2121.6 L1165.3,2124.0 L1168.0,2126.3 L1170.6,2128.5 L1173.3,2130.8 L1176.0,2133.0 L1178.6,2135.2 L1181.3,2137.3 L1183.9,2139.4 L1186.6,2141.5 L1189.3,2143.6 L1191.9,2145.5 L1194.6,2147.5 L1197.2,2149.4 L1199.9,2151.3 L1202.6,2153.1 L1205.2,2154.9 L1207.9,2156.6 L1210.5,2158.3 L1213.2,2160.0 L1215.9,2161.6 L1218.5,2163.1 L1221.2,2164.6 L1223.8,2166.1 L1226.5,2167.5 L1229.2,2168.9 L1231.8,2170.2 L1234.5,2171.5 L1237.1,2172.8 L1239.8,2174.0 L1242.5,2175.1 L1245.1,2176.2 L1247.8,2177.3 L1250.4,2178.3 L1253.1,2179.3 L1255.7,2180.2 L1258.4,2181.1 L1261.1,2182.0 L1263.7,2182.8 L1266.4,2183.6 L1269.0,2184.4 L1271.7,2185.1 L1274.4,2185.8 L1277.0,2186.4 L1279.7,2187.0 L1282.3,2187.6 L1285.0,2188.2 L1287.7,2188.7 L1290.3,2189.2 L1293.0,2189.7 L1295.6,2190.1 L1298.3,2190.5 L1301.0,2190.9 L1303.6,2191.3 L1306.3,2191.6 L1308.9,2191.9 L1311.6,2192.2 L1314.3,2192.5 L1316.9,2192.7 L1319.6,2192.9 L1322.2,2193.1 L1324.9,2193.3 L1327.6,2193.5 L1330.2,2193.6 L1332.9,2193.7 L1335.5,2193.8 L1338.2,2193.9 L1340.9,2194.0 L1343.5,2194.0 L1346.2,2194.0 L1348.8,2194.0 L1351.5,2194.0 L1354.2,2193.9 L1356.8,2193.8 L1359.5,2193.7 L1362.1,2193.6 L1364.8,2193.4 L1367.5,2193.3 L1370.1,2193.1 L1372.8,2192.8 L1375.4,2192.6 L1378.1,2192.3 L1380.8,2192.0 L1383.4,2191.7 L1386.1,2191.3 L1388.7,2190.9 L1391.4,2190.4 L1394.0,2190.0 L1396.7,2189.5 L1399.4,2188.9 L1402.0,2188.4 L1404.7,2187.8 L1407.3,2187.1 L1410.0,2186.4 L1412.7,2185.7 L1415.3,2184.9 L1418.0,2184.1 L1420.6,2183.3 L1423.3,2182.4 L1426.0,2181.4 L1428.6,2180.4 L1431.3,2179.4 L1433.9,2178.3 L1436.6,2177.2 L1439.3,2176.0 L1441.9,2174.8 L1444.6,2173.5 L1447.2,2172.2 L1449.9,2170.8 L1452.6,2169.4 L1455.2,2167.9 L1457.9,2166.4 L1460.5,2164.8 L1463.2,2163.2 L1465.9,2161.5 L1468.5,2159.8 L1471.2,2158.1 L1473.8,2156.2 L1476.5,2154.4 L1479.2,2152.5 L1481.8,2150.5 L1484.5,2148.5 L1487.1,2146.5 L1489.8,2144.4 L1492.5,2142.3 L1495.1,2140.1 L1497.8,2137.9 L1500.4,2135.7 L1503.1,2133.4 L1505.8,2131.1 L1508.4,2128.8 L1511.1,2126.4 L1513.7,2124.0 L1516.4,2121.6 L1519.1,2119.2 L1521.7,2116.7 L1524.4,2114.2 L1527.0,2111.7 L1529.7,2109.2 L1532.3,2106.7 L1535.0,2104.2 L1537.7,2101.7 L1540.3,2099.1 L1543.0,2096.6 L1545.6,2094.1 L1548.3,2091.6 L1551.0,2089.1 L1553.6,2086.6 L1556.3,2084.1 L1558.9,2081.7 L1561.6,2079.2 L1564.3,2076.8 L1566.9,2074.4 L1569.6,2072.1 L1572.2,2069.8 L1574.9,2067.5 L1577.6,2065.3 L1580.2,2063.1 L1582.9,2061.0 L1585.5,2058.9 L1588.2,2056.8 L1590.9,2054.8 L1593.5,2052.9 L1596.2,2051.1 L1598.8,2049.3 L1601.5,2047.5 L1604.2,2045.9 L1606.8,2044.3 L1609.5,2042.7 L1612.1,2041.3 L1614.8,2039.9 L1617.5,2038.6 L1620.1,2037.4 L1622.8,2036.3 L1625.4,2035.3 L1628.1,2034.3 L1630.8,2033.4 L1633.4,2032.7 L1636.1,2032.0 L1638.7,2031.4 L1641.4,2030.9 L1644.1,2030.4 L1646.7,2030.1 L1649.4,2029.9 L1652.0,2029.8 L1654.7,2029.7 L1657.3,2029.8 L1660.0,2029.9 L1662.7,2030.2 L1665.3,2030.5 L1668.0,2030.9 L1670.6,2031.4 L1673.3,2032.1 L1676.0,2032.8 L1678.6,2033.5 L1681.3,2034.4 L1683.9,2035.4 L1686.6,2036.4 L1689.3,2037.5 L1691.9,2038.8 L1694.6,2040.0 L1697.2,2041.4 L1699.9,2042.8 L1702.6,2044.4 L1705.2,2045.9 L1707.9,2047.6 L1710.5,2049.3 L1713.2,2051.1 L1715.9,2053.0 L1718.5,2054.9 L1721.2,2056.8 L1723.8,2058.8 L1726.5,2060.9 L1729.2,2063.0 L1731.8,2065.2 L1734.5,2067.3 L1737.1,2069.6 L1739.8,2071.9 L1742.5,2074.2 L1745.1,2076.5 L1747.8,2078.8 L1750.4,2081.2 L1753.1,2083.6 L1755.8,2086.0 L1758.4,2088.5 L1761.1,2090.9 L1763.7,2093.4 L1766.4,2095.8 L1769.1,2098.3 L1771.7,2100.8 L1774.4,2103.2 L1777.0,2105.7 L1779.7,2108.1 L1782.4,2110.5 L1785.0,2113.0 L1787.7,2115.4 L1790.3,2117.8 L1793.0,2120.1 L1795.6,2122.5 L1798.3,2124.8 L1801.0,2127.1 L1803.6,2129.3 L1806.3,2131.6 L1808.9,2133.8 L1811.6,2136.0 L1814.3,2138.1 L1816.9,2140.2 L1819.6,2142.2 L1822.2,2144.3 L1824.9,2146.2 L1827.6,2148.2 L1830.2,2150.1 L1832.9,2151.9 L1835.5,2153.8 L1838.2,2155.5 L1840.9,2157.2 L1843.5,2158.9 L1846.2,2160.6 L1848.8,2162.1 L1851.5,2163.7" fill="none" stroke="#ff0000" stroke-width="8" stroke-linejoin="round"/>
<rect x="226.0" y="1751.0" width="1657.6" height="637.6" fill="none" stroke="#000" stroke-width="5.7"/>
<path d="M291.5,1748.2V1741.2M291.5,2391.4V2398.4M449.5,1748.2V1741.2M449.5,2391.4V2398.4M607.5,1748.2V1732.2M607.5,2391.4V2407.4M765.5,1748.2V1741.2M765.5,2391.4V2398.4M923.5,1748.2V1741.2M923.5,2391.4V2398.4M1081.5,1748.2V1741.2M1081.5,2391.4V2398.4M1239.6,1748.2V1732.2M1239.6,2391.4V2407.4M1397.6,1748.2V1741.2M1397.6,2391.4V2398.4M1555.6,1748.2V1741.2M1555.6,2391.4V2398.4M1713.6,1748.2V1741.2M1713.6,2391.4V2398.4M1871.6,1748.2V1732.2M1871.6,2391.4V2407.4M223.2,2368.9H207.2M1886.4,2368.9H1902.4M223.2,2237.0H207.2M1886.4,2237.0H1902.4M223.2,2105.2H207.2M1886.4,2105.2H1902.4M223.2,1973.3H207.2M1886.4,1973.3H1902.4M223.2,1841.5H207.2M1886.4,1841.5H1902.4" stroke="#000" stroke-width="2.5" fill="none"/>
<text transform="translate(607.5,2454.7) scale(1,1.06)" font-size="42.4" font-weight="bold" text-anchor="middle">2024</text>
<text transform="translate(1239.6,2454.7) scale(1,1.06)" font-size="42.4" font-weight="bold" text-anchor="middle">2025</text>
<text transform="translate(1871.6,2454.7) scale(1,1.06)" font-size="42.4" font-weight="bold" text-anchor="middle">2026</text>
<text transform="translate(190.3,2385.3) scale(1,1.07)" font-size="42.4" font-weight="bold" text-anchor="end">−20</text>
<text transform="translate(190.3,2253.4) scale(1,1.07)" font-size="42.4" font-weight="bold" text-anchor="end">−10</text>
<text transform="translate(190.3,2121.6) scale(1,1.07)" font-size="42.4" font-weight="bold" text-anchor="end">0</text>
<text transform="translate(190.3,1989.8) scale(1,1.07)" font-size="42.4" font-weight="bold" text-anchor="end">10</text>
<text transform="translate(190.3,1857.9) scale(1,1.07)" font-size="42.4" font-weight="bold" text-anchor="end">20</text>
<text transform="translate(90.0,2069.8) rotate(-90) scale(1,1.04)" font-size="42.4" text-anchor="middle">Up (mm)</text>
<text transform="translate(1815.5,1789.7) scale(1,1.07)" font-size="35.3" font-weight="bold" text-anchor="end">0.000+/- 2.083 mm/yr</text>
<text transform="translate(1054.8,2513.9) scale(1,1.04)" font-size="42.4" text-anchor="middle">Time (year)</text>
<rect x="226.0" y="2618.1" width="1657.6" height="152.9" fill="none" stroke="#000" stroke-width="5.7"/>
<text transform="translate(1054.8,2666.6) scale(1,1.05)" font-size="35.6" font-weight="bold" text-anchor="middle">24 Hour Positions Using Final Orbits (blue) and Rapid Orbits (magenta).</text>
<text transform="translate(1054.8,2707.0) scale(1,1.05)" font-size="35.6" font-weight="bold" text-anchor="middle">Processed by the Nevada Geodetic Laboratory.</text>
<text transform="translate(1054.8,2747.4) scale(1,1.05)" font-size="35.6" font-weight="bold" text-anchor="middle">Plotted on 2026-Jan-8. Last data on 2025-Dec-20.</text>
</svg></body></html>
